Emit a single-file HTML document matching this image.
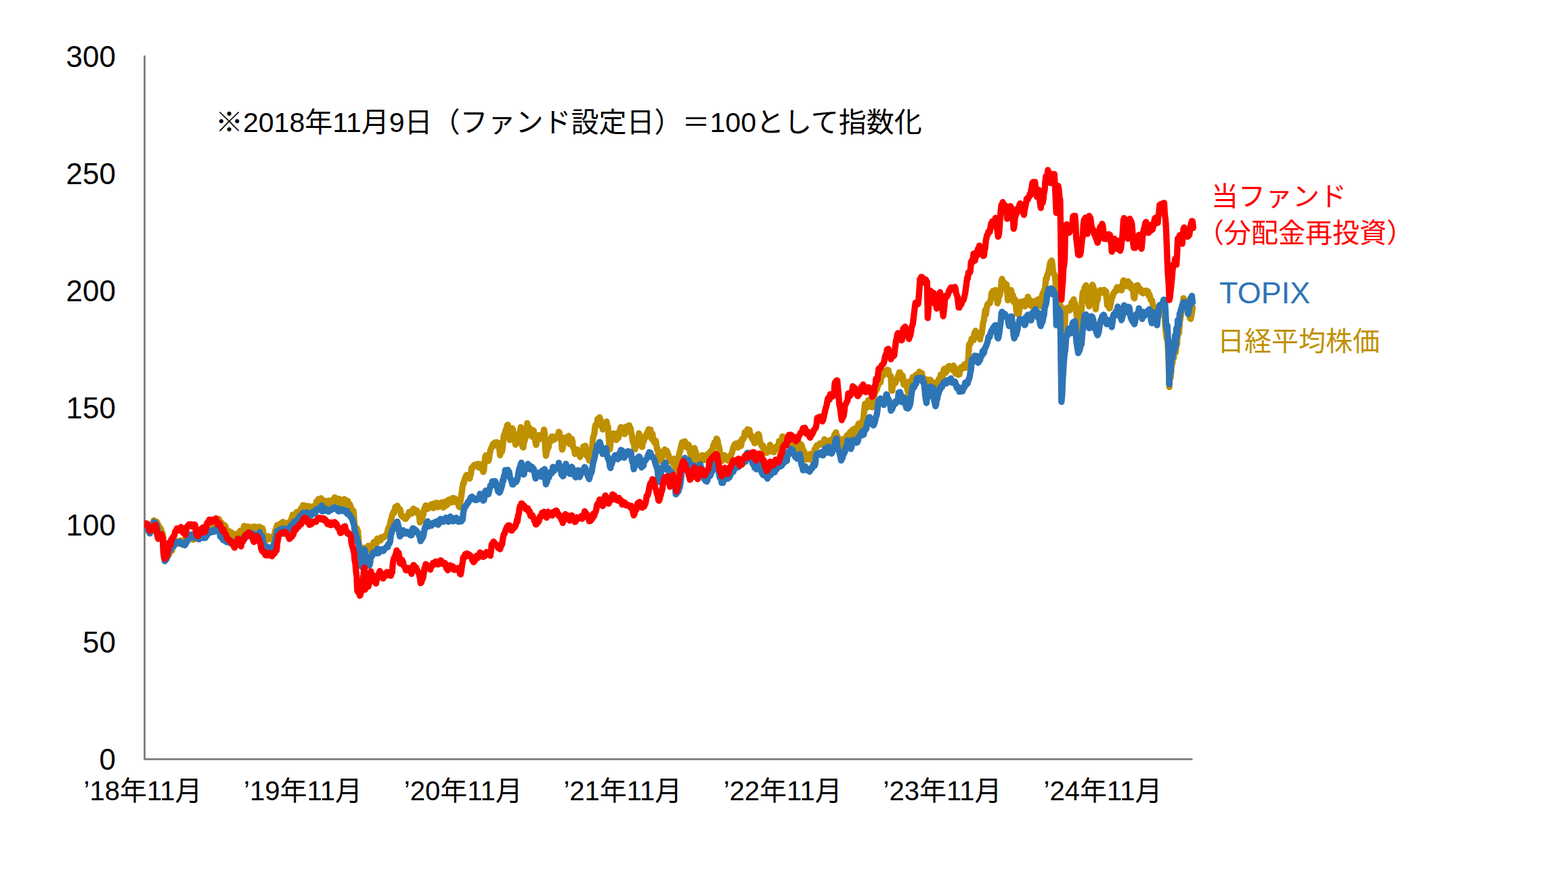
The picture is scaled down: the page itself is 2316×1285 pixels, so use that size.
<!DOCTYPE html>
<html lang="ja"><head><meta charset="utf-8"><title>chart</title>
<style>
html,body{margin:0;padding:0;background:#fff;}
body{width:2316px;height:1285px;overflow:hidden;font-family:"Liberation Sans","Noto Sans CJK JP",sans-serif;}
svg{display:block}
.ln{fill:none;stroke-width:9.3;stroke-linejoin:round;stroke-linecap:round}
text{font-family:"Liberation Sans","Noto Sans CJK JP",sans-serif;}
</style></head><body>
<svg width="2316" height="1285" viewBox="0 0 2316 1285" role="img" aria-label="基準価額の推移（当ファンド・TOPIX・日経平均株価）">
<rect width="2316" height="1285" fill="#fff"/>
<path d="M213.55,82.1 V1121.45 H1761.4" fill="none" stroke="#7b7b7b" stroke-width="2.8" stroke-linejoin="bevel"/>
<clipPath id="cp"><rect x="213.4" y="0" width="2000" height="1285"/></clipPath>
<g clip-path="url(#cp)">
<path class="ln" stroke="#bf9000" d="M213.8,775.8 L214.8,777.5 L215.7,781.7 L216.7,781.1 L217.6,781.2 L218.6,781.5 L219.5,784.7 L220.5,786.5 L221.4,787.9 L222.4,781.9 L223.3,781.8 L224.3,777.7 L225.3,774.9 L226.2,771.5 L227.2,768.7 L228.1,769.7 L229.1,771.6 L230.0,770.5 L231.0,770.4 L231.9,771.5 L232.9,775.6 L233.8,775.1 L234.8,780.1 L235.7,783.1 L236.7,779.6 L237.7,781.8 L238.6,785.0 L239.6,786.6 L240.5,789.6 L241.5,799.6 L242.4,815.9 L243.4,824.1 L244.3,821.5 L245.3,822.1 L246.2,822.4 L247.2,819.6 L248.2,818.4 L249.1,820.1 L250.1,817.4 L251.0,813.8 L252.0,813.8 L252.9,811.8 L253.9,813.3 L254.8,809.0 L255.8,807.4 L256.7,805.7 L257.7,801.6 L258.6,801.7 L259.6,801.9 L260.6,799.4 L261.5,801.1 L262.5,801.9 L263.4,801.1 L264.4,801.3 L265.3,803.4 L266.3,798.4 L267.2,800.5 L268.2,801.5 L269.1,800.0 L270.1,798.9 L271.1,798.0 L272.0,799.0 L273.0,797.0 L273.9,796.3 L274.9,797.1 L275.8,793.4 L276.8,794.5 L277.7,793.7 L278.7,793.5 L279.6,791.1 L280.6,791.9 L281.5,791.3 L282.5,790.8 L283.5,790.1 L284.4,792.7 L285.4,797.1 L286.3,789.9 L287.3,792.1 L288.2,794.3 L289.2,793.3 L290.1,793.1 L291.1,793.8 L292.0,789.8 L293.0,790.7 L294.0,795.6 L294.9,790.5 L295.9,790.1 L296.8,789.6 L297.8,786.8 L298.7,788.1 L299.7,792.3 L300.6,785.0 L301.6,780.5 L302.5,781.8 L303.5,785.4 L304.4,784.0 L305.4,780.1 L306.4,780.0 L307.3,779.2 L308.3,778.6 L309.2,775.9 L310.2,776.6 L311.1,777.2 L312.1,776.6 L313.0,775.8 L314.0,774.1 L314.9,771.6 L315.9,775.2 L316.9,774.0 L317.8,767.1 L318.8,769.9 L319.7,769.7 L320.7,769.7 L321.6,771.5 L322.6,771.1 L323.5,766.7 L324.5,770.0 L325.4,778.8 L326.4,774.5 L327.3,772.1 L328.3,776.2 L329.3,775.0 L330.2,775.3 L331.2,775.3 L332.1,776.4 L333.1,777.5 L334.0,782.5 L335.0,786.1 L335.9,787.5 L336.9,790.5 L337.8,787.0 L338.8,784.5 L339.8,787.8 L340.7,786.0 L341.7,786.4 L342.6,787.0 L343.6,787.9 L344.5,789.4 L345.5,791.9 L346.4,790.5 L347.4,790.5 L348.3,789.9 L349.3,790.4 L350.2,788.3 L351.2,788.0 L352.2,788.7 L353.1,789.5 L354.1,789.8 L355.0,783.8 L356.0,784.3 L356.9,785.3 L357.9,785.2 L358.8,785.9 L359.8,780.7 L360.7,776.8 L361.7,779.2 L362.7,777.7 L363.6,779.5 L364.6,782.8 L365.5,778.4 L366.5,777.8 L367.4,778.4 L368.4,779.0 L369.3,779.7 L370.3,780.1 L371.2,779.2 L372.2,778.4 L373.2,779.5 L374.1,780.1 L375.1,779.8 L376.0,777.7 L377.0,778.4 L377.9,779.8 L378.9,778.9 L379.8,778.4 L380.8,779.4 L381.7,778.7 L382.7,778.8 L383.6,778.1 L384.6,779.2 L385.6,780.3 L386.5,783.1 L387.5,780.1 L388.4,782.7 L389.4,791.2 L390.3,794.8 L391.3,795.2 L392.2,795.1 L393.2,796.5 L394.1,797.2 L395.1,794.3 L396.1,791.8 L397.0,796.5 L398.0,794.8 L398.9,794.8 L399.9,795.7 L400.8,793.2 L401.8,796.5 L402.7,793.7 L403.7,793.2 L404.6,793.7 L405.6,789.6 L406.5,783.7 L407.5,782.5 L408.5,778.1 L409.4,775.8 L410.4,776.1 L411.3,775.5 L412.3,775.0 L413.2,774.2 L414.2,774.1 L415.1,772.7 L416.1,775.7 L417.0,774.7 L418.0,770.8 L419.0,773.2 L419.9,774.4 L420.9,776.1 L421.8,772.9 L422.8,775.0 L423.7,773.9 L424.7,774.1 L425.6,777.1 L426.6,771.5 L427.5,774.1 L428.5,773.2 L429.4,771.1 L430.4,766.3 L431.4,764.0 L432.3,760.3 L433.3,762.8 L434.2,765.7 L435.2,763.7 L436.1,764.7 L437.1,764.3 L438.0,756.4 L439.0,757.8 L439.9,757.7 L440.9,755.9 L441.9,755.5 L442.8,758.1 L443.8,754.8 L444.7,750.7 L445.7,751.6 L446.6,750.0 L447.6,746.1 L448.5,747.8 L449.5,750.6 L450.4,747.3 L451.4,747.0 L452.3,748.5 L453.3,749.5 L454.3,751.1 L455.2,749.9 L456.2,747.6 L457.1,753.2 L458.1,750.7 L459.0,748.8 L460.0,748.3 L460.9,751.9 L461.9,750.1 L462.8,749.0 L463.8,751.6 L464.8,746.5 L465.7,747.3 L466.7,745.9 L467.6,740.4 L468.6,741.0 L469.5,742.5 L470.5,737.1 L471.4,740.5 L472.4,738.7 L473.3,737.2 L474.3,736.0 L475.2,738.9 L476.2,740.4 L477.2,740.8 L478.1,740.4 L479.1,741.1 L480.0,739.7 L481.0,741.2 L481.9,742.2 L482.9,743.2 L483.8,745.8 L484.8,743.8 L485.7,739.4 L486.7,743.7 L487.7,742.7 L488.6,740.4 L489.6,740.3 L490.5,738.8 L491.5,739.5 L492.4,738.1 L493.4,737.4 L494.3,734.7 L495.3,740.6 L496.2,740.8 L497.2,736.4 L498.1,738.1 L499.1,739.1 L500.1,741.6 L501.0,736.8 L502.0,742.1 L502.9,747.5 L503.9,742.3 L504.8,741.5 L505.8,742.0 L506.7,741.2 L507.7,740.2 L508.6,737.2 L509.6,740.1 L510.6,741.2 L511.5,744.5 L512.5,740.0 L513.4,739.7 L514.4,743.8 L515.3,747.0 L516.3,744.2 L517.2,746.2 L518.2,749.0 L519.1,751.7 L520.1,754.1 L521.0,755.1 L522.0,754.4 L523.0,765.4 L523.9,781.9 L524.9,781.0 L525.8,780.3 L526.8,780.1 L527.7,782.7 L528.7,784.4 L529.6,798.2 L530.6,807.4 L531.5,817.2 L532.5,815.2 L533.5,812.1 L534.4,810.0 L535.4,812.4 L536.3,810.3 L537.3,809.1 L538.2,811.8 L539.2,812.5 L540.1,812.0 L541.1,811.2 L542.0,812.3 L543.0,813.3 L544.0,806.2 L544.9,811.2 L545.9,812.1 L546.8,809.1 L547.8,809.3 L548.7,810.0 L549.7,809.3 L550.6,805.1 L551.6,801.2 L552.5,800.3 L553.5,801.5 L554.4,801.7 L555.4,805.6 L556.4,801.9 L557.3,795.5 L558.3,798.2 L559.2,797.4 L560.2,798.3 L561.1,797.9 L562.1,798.2 L563.0,793.5 L564.0,795.1 L564.9,794.0 L565.9,794.0 L566.9,793.9 L567.8,792.3 L568.8,791.7 L569.7,790.2 L570.7,790.5 L571.6,789.4 L572.6,784.4 L573.5,780.0 L574.5,780.2 L575.4,776.0 L576.4,773.3 L577.3,768.1 L578.3,765.6 L579.3,760.6 L580.2,758.9 L581.2,756.0 L582.1,757.5 L583.1,752.8 L584.0,748.7 L585.0,749.0 L585.9,748.2 L586.9,747.1 L587.8,749.5 L588.8,750.5 L589.8,752.5 L590.7,752.2 L591.7,755.1 L592.6,761.2 L593.6,762.2 L594.5,763.0 L595.5,763.8 L596.4,762.9 L597.4,765.1 L598.3,766.2 L599.3,766.4 L600.2,764.6 L601.2,761.9 L602.2,762.6 L603.1,759.4 L604.1,756.2 L605.0,758.3 L606.0,758.9 L606.9,758.6 L607.9,758.6 L608.8,755.8 L609.8,752.5 L610.7,751.2 L611.7,755.4 L612.7,756.7 L613.6,753.2 L614.6,754.3 L615.5,753.9 L616.5,757.9 L617.4,756.8 L618.4,757.7 L619.3,763.2 L620.3,771.5 L621.2,765.4 L622.2,764.9 L623.1,768.5 L624.1,762.9 L625.1,760.4 L626.0,754.2 L627.0,750.8 L627.9,749.0 L628.9,746.5 L629.8,748.0 L630.8,751.8 L631.7,750.5 L632.7,750.8 L633.6,747.2 L634.6,747.1 L635.6,747.4 L636.5,746.4 L637.5,744.6 L638.4,745.7 L639.4,748.2 L640.3,750.5 L641.3,747.1 L642.2,743.2 L643.2,743.9 L644.1,744.6 L645.1,742.6 L646.0,747.4 L647.0,749.1 L648.0,747.0 L648.9,744.6 L649.9,743.0 L650.8,742.9 L651.8,743.6 L652.7,741.8 L653.7,748.2 L654.6,749.7 L655.6,748.8 L656.5,746.6 L657.5,742.2 L658.5,740.5 L659.4,746.6 L660.4,741.8 L661.3,744.1 L662.3,743.9 L663.2,737.8 L664.2,738.6 L665.1,738.7 L666.1,739.2 L667.0,738.5 L668.0,741.9 L668.9,735.5 L669.9,736.8 L670.9,737.9 L671.8,736.2 L672.8,741.3 L673.7,741.3 L674.7,738.7 L675.6,740.6 L676.6,742.7 L677.5,747.4 L678.5,749.1 L679.4,744.9 L680.4,738.2 L681.4,732.7 L682.3,726.4 L683.3,717.5 L684.2,713.7 L685.2,713.6 L686.1,708.5 L687.1,705.9 L688.0,703.8 L689.0,701.6 L689.9,702.7 L690.9,706.2 L691.9,705.5 L692.8,704.7 L693.8,706.8 L694.7,702.2 L695.7,699.4 L696.6,691.1 L697.6,691.3 L698.5,690.3 L699.5,687.8 L700.4,686.9 L701.4,687.2 L702.3,686.0 L703.3,687.6 L704.3,687.7 L705.2,687.8 L706.2,685.2 L707.1,690.4 L708.1,688.7 L709.0,687.8 L710.0,686.9 L710.9,685.9 L711.9,690.0 L712.8,694.3 L713.8,697.1 L714.8,693.9 L715.7,683.2 L716.7,674.9 L717.6,672.6 L718.6,677.9 L719.5,679.4 L720.5,679.8 L721.4,680.9 L722.4,677.2 L723.3,670.5 L724.3,665.4 L725.2,663.2 L726.2,660.4 L727.2,659.3 L728.1,655.9 L729.1,655.2 L730.0,654.1 L731.0,658.1 L731.9,653.4 L732.9,655.0 L733.8,653.1 L734.8,655.3 L735.7,654.1 L736.7,659.5 L737.7,663.9 L738.6,672.3 L739.6,668.1 L740.5,664.5 L741.5,666.9 L742.4,661.9 L743.4,649.9 L744.3,642.9 L745.3,640.8 L746.2,638.2 L747.2,634.3 L748.1,636.6 L749.1,628.3 L750.1,627.4 L751.0,637.6 L752.0,643.3 L752.9,649.8 L753.9,645.4 L754.8,640.3 L755.8,637.6 L756.7,632.5 L757.7,634.9 L758.6,645.8 L759.6,647.3 L760.6,651.5 L761.5,656.8 L762.5,653.4 L763.4,655.0 L764.4,648.7 L765.3,647.3 L766.3,641.2 L767.2,639.3 L768.2,638.5 L769.1,630.8 L770.1,639.2 L771.0,653.9 L772.0,660.2 L773.0,660.9 L773.9,652.1 L774.9,651.0 L775.8,646.4 L776.8,645.9 L777.7,639.1 L778.7,625.1 L779.6,630.8 L780.6,636.3 L781.5,631.4 L782.5,632.5 L783.5,636.8 L784.4,636.6 L785.4,642.9 L786.3,645.2 L787.3,635.3 L788.2,636.0 L789.2,645.8 L790.1,641.9 L791.1,655.0 L792.0,657.1 L793.0,646.3 L793.9,648.9 L794.9,644.6 L795.9,642.6 L796.8,648.6 L797.8,648.1 L798.7,644.3 L799.7,645.0 L800.6,646.1 L801.6,641.2 L802.5,640.7 L803.5,634.6 L804.4,639.4 L805.4,662.6 L806.4,673.1 L807.3,667.7 L808.3,664.0 L809.2,660.2 L810.2,660.7 L811.1,654.1 L812.1,649.1 L813.0,648.1 L814.0,651.6 L814.9,644.8 L815.9,645.5 L816.8,644.8 L817.8,647.3 L818.8,649.2 L819.7,648.1 L820.7,647.4 L821.6,644.9 L822.6,646.4 L823.5,644.6 L824.5,641.2 L825.4,637.9 L826.4,639.4 L827.3,646.8 L828.3,647.2 L829.3,652.2 L830.2,664.0 L831.2,661.9 L832.1,654.1 L833.1,646.8 L834.0,646.4 L835.0,649.1 L835.9,648.9 L836.9,653.3 L837.8,649.8 L838.8,650.2 L839.8,643.8 L840.7,655.2 L841.7,655.9 L842.6,652.2 L843.6,656.5 L844.5,648.2 L845.5,651.5 L846.4,660.9 L847.4,662.3 L848.3,663.5 L849.3,670.5 L850.2,667.5 L851.2,669.8 L852.2,663.8 L853.1,664.5 L854.1,668.5 L855.0,670.0 L856.0,671.5 L856.9,674.9 L857.9,670.2 L858.8,667.3 L859.8,666.0 L860.7,665.4 L861.7,659.6 L862.7,666.5 L863.6,661.9 L864.6,658.5 L865.5,664.7 L866.5,673.1 L867.4,670.5 L868.4,672.5 L869.3,676.9 L870.3,680.0 L871.2,673.9 L872.2,674.8 L873.1,669.7 L874.1,663.6 L875.1,656.6 L876.0,646.7 L877.0,642.9 L877.9,640.6 L878.9,631.1 L879.8,627.4 L880.8,629.3 L881.7,626.1 L882.7,619.0 L883.6,624.6 L884.6,619.6 L885.6,616.4 L886.5,618.7 L887.5,622.7 L888.4,624.1 L889.4,630.9 L890.3,634.3 L891.3,632.7 L892.2,628.7 L893.2,625.8 L894.1,626.5 L895.1,626.0 L896.0,622.6 L897.0,628.2 L898.0,630.5 L898.9,642.8 L899.9,657.2 L900.8,663.6 L901.8,653.9 L902.7,649.1 L903.7,646.4 L904.6,645.5 L905.6,640.3 L906.5,640.3 L907.5,645.4 L908.5,640.6 L909.4,648.6 L910.4,649.8 L911.3,646.3 L912.3,640.2 L913.2,646.8 L914.2,642.9 L915.1,636.2 L916.1,634.1 L917.0,630.8 L918.0,633.3 L918.9,634.8 L919.9,631.7 L920.9,640.1 L921.8,640.0 L922.8,641.2 L923.7,636.5 L924.7,630.6 L925.6,629.9 L926.6,632.6 L927.5,632.0 L928.5,628.6 L929.4,628.1 L930.4,632.8 L931.4,632.5 L932.3,639.6 L933.3,642.9 L934.2,649.8 L935.2,653.8 L936.1,650.0 L937.1,662.4 L938.0,663.6 L939.0,655.8 L939.9,656.8 L940.9,652.7 L941.8,648.1 L942.8,647.8 L943.8,640.0 L944.7,642.9 L945.7,648.7 L946.6,648.9 L947.6,659.6 L948.5,660.2 L949.5,653.6 L950.4,652.5 L951.4,649.4 L952.3,644.6 L953.3,646.3 L954.3,644.5 L955.2,639.9 L956.2,639.4 L957.1,637.8 L958.1,634.1 L959.0,636.9 L960.0,640.6 L960.9,634.8 L961.9,646.4 L962.8,648.6 L963.8,640.9 L964.7,648.9 L965.7,649.8 L966.7,653.9 L967.6,650.4 L968.6,651.3 L969.5,656.7 L970.5,663.9 L971.4,663.1 L972.4,670.5 L973.3,676.9 L974.3,676.1 L975.2,677.3 L976.2,680.9 L977.2,675.1 L978.1,676.2 L979.1,667.1 L980.0,667.9 L981.0,671.3 L981.9,663.8 L982.9,665.4 L983.8,667.4 L984.8,665.9 L985.7,667.5 L986.7,670.5 L987.7,673.5 L988.6,679.1 L989.6,680.9 L990.5,678.8 L991.5,679.8 L992.4,679.0 L993.4,683.9 L994.3,679.2 L995.3,677.5 L996.2,678.7 L997.2,692.2 L998.1,694.7 L999.1,690.3 L1000.1,686.8 L1001.0,683.1 L1002.0,678.3 L1002.9,672.3 L1003.9,667.5 L1004.8,666.1 L1005.8,659.8 L1006.7,656.7 L1007.7,653.2 L1008.6,655.6 L1009.6,655.3 L1010.6,654.1 L1011.5,651.8 L1012.5,659.6 L1013.4,655.5 L1014.4,656.7 L1015.3,661.3 L1016.3,659.0 L1017.2,656.8 L1018.2,660.2 L1019.1,667.4 L1020.1,671.9 L1021.0,677.7 L1022.0,680.9 L1023.0,672.7 L1023.9,674.9 L1024.9,670.8 L1025.8,661.9 L1026.8,666.5 L1027.7,667.4 L1028.7,671.1 L1029.6,677.4 L1030.6,676.6 L1031.5,683.0 L1032.5,678.2 L1033.5,680.9 L1034.4,676.4 L1035.4,677.6 L1036.3,676.4 L1037.3,672.3 L1038.2,673.4 L1039.2,674.0 L1040.1,679.5 L1041.1,678.4 L1042.0,677.1 L1043.0,675.9 L1043.9,673.5 L1044.9,671.0 L1045.9,672.3 L1046.8,671.2 L1047.8,668.7 L1048.7,667.8 L1049.7,667.4 L1050.6,665.4 L1051.6,664.6 L1052.5,666.5 L1053.5,658.0 L1054.4,656.6 L1055.4,653.4 L1056.4,654.7 L1057.3,652.4 L1058.3,648.0 L1059.2,648.8 L1060.2,651.6 L1061.1,657.8 L1062.1,660.4 L1063.0,665.4 L1064.0,673.8 L1064.9,672.6 L1065.9,681.0 L1066.8,674.7 L1067.8,676.2 L1068.8,679.2 L1069.7,672.3 L1070.7,673.1 L1071.6,678.1 L1072.6,676.4 L1073.5,675.7 L1074.5,679.3 L1075.4,680.4 L1076.4,677.5 L1077.3,678.2 L1078.3,673.1 L1079.3,674.1 L1080.2,671.0 L1081.2,668.6 L1082.1,665.4 L1083.1,660.3 L1084.0,660.9 L1085.0,656.5 L1085.9,658.7 L1086.9,655.1 L1087.8,657.3 L1088.8,657.1 L1089.7,661.1 L1090.7,660.3 L1091.7,657.0 L1092.6,652.5 L1093.6,655.1 L1094.5,658.7 L1095.5,653.4 L1096.4,648.0 L1097.4,647.4 L1098.3,648.2 L1099.3,645.5 L1100.2,638.3 L1101.2,638.9 L1102.2,637.8 L1103.1,640.2 L1104.1,634.1 L1105.0,634.4 L1106.0,638.9 L1106.9,635.0 L1107.9,642.7 L1108.8,644.7 L1109.8,643.0 L1110.7,647.6 L1111.7,649.1 L1112.6,650.2 L1113.6,651.6 L1114.6,654.7 L1115.5,646.4 L1116.5,646.4 L1117.4,648.0 L1118.4,644.1 L1119.3,641.5 L1120.3,641.3 L1121.2,643.0 L1122.2,649.8 L1123.1,653.7 L1124.1,656.8 L1125.1,658.2 L1126.0,660.1 L1127.0,657.9 L1127.9,663.8 L1128.9,663.7 L1129.8,662.7 L1130.8,668.3 L1131.7,668.9 L1132.7,668.9 L1133.6,665.6 L1134.6,666.4 L1135.5,665.1 L1136.5,662.0 L1137.5,657.0 L1138.4,666.5 L1139.4,665.6 L1140.3,665.3 L1141.3,667.2 L1142.2,666.5 L1143.2,667.8 L1144.1,661.6 L1145.1,662.0 L1146.0,659.8 L1147.0,661.4 L1148.0,663.9 L1148.9,659.0 L1149.9,656.8 L1150.8,651.3 L1151.8,654.2 L1152.7,656.4 L1153.7,653.4 L1154.6,653.6 L1155.6,644.6 L1156.5,645.9 L1157.5,646.5 L1158.5,645.6 L1159.4,648.0 L1160.4,650.2 L1161.3,648.2 L1162.3,647.3 L1163.2,649.1 L1164.2,648.8 L1165.1,647.0 L1166.1,656.7 L1167.0,655.2 L1168.0,655.6 L1168.9,652.9 L1169.9,652.9 L1170.9,655.7 L1171.8,656.8 L1172.8,656.9 L1173.7,659.7 L1174.7,665.4 L1175.6,659.1 L1176.6,647.6 L1177.5,659.4 L1178.5,660.3 L1179.4,663.4 L1180.4,657.7 L1181.4,655.3 L1182.3,665.6 L1183.3,656.1 L1184.2,658.5 L1185.2,662.1 L1186.1,664.5 L1187.1,668.9 L1188.0,667.2 L1189.0,678.8 L1189.9,674.6 L1190.9,674.1 L1191.8,672.5 L1192.8,678.4 L1193.8,677.4 L1194.7,678.4 L1195.7,678.3 L1196.6,670.5 L1197.6,675.8 L1198.5,676.0 L1199.5,679.4 L1200.4,675.6 L1201.4,670.1 L1202.3,668.9 L1203.3,663.3 L1204.3,665.0 L1205.2,660.3 L1206.2,658.0 L1207.1,658.0 L1208.1,658.4 L1209.0,657.9 L1210.0,656.8 L1210.9,655.0 L1211.9,656.1 L1212.8,656.1 L1213.8,655.6 L1214.7,654.2 L1215.7,655.7 L1216.7,657.6 L1217.6,648.8 L1218.6,652.4 L1219.5,653.4 L1220.5,655.1 L1221.4,654.6 L1222.4,653.6 L1223.3,655.2 L1224.3,655.1 L1225.2,655.9 L1226.2,649.8 L1227.2,661.2 L1228.1,655.6 L1229.1,656.8 L1230.0,651.7 L1231.0,647.1 L1231.9,644.7 L1232.9,641.8 L1233.8,640.6 L1234.8,638.7 L1235.7,646.8 L1236.7,644.0 L1237.6,646.4 L1238.6,648.2 L1239.6,648.5 L1240.5,651.7 L1241.5,660.7 L1242.4,660.3 L1243.4,657.5 L1244.3,664.0 L1245.3,654.0 L1246.2,648.2 L1247.2,655.4 L1248.1,656.0 L1249.1,651.3 L1250.1,647.9 L1251.0,643.0 L1252.0,645.2 L1252.9,651.0 L1253.9,645.7 L1254.8,639.5 L1255.8,637.9 L1256.7,648.0 L1257.7,645.4 L1258.6,642.2 L1259.6,634.4 L1260.5,637.6 L1261.5,643.0 L1262.5,638.6 L1263.4,632.6 L1264.4,632.7 L1265.3,640.0 L1266.3,639.2 L1267.2,629.3 L1268.2,625.7 L1269.1,629.8 L1270.1,634.0 L1271.0,626.8 L1272.0,624.0 L1273.0,628.6 L1273.9,630.0 L1274.9,620.5 L1275.8,613.6 L1276.8,603.7 L1277.7,596.4 L1278.7,601.1 L1279.6,601.8 L1280.6,602.0 L1281.5,596.4 L1282.5,591.2 L1283.4,596.7 L1284.4,600.0 L1285.4,596.3 L1286.3,591.6 L1287.3,592.9 L1288.2,601.5 L1289.2,598.0 L1290.1,585.8 L1291.1,586.0 L1292.0,581.2 L1293.0,579.5 L1293.9,574.7 L1294.9,575.6 L1295.9,572.2 L1296.8,570.2 L1297.8,561.8 L1298.7,558.9 L1299.7,563.5 L1300.6,564.7 L1301.6,556.7 L1302.5,554.9 L1303.5,555.7 L1304.4,552.7 L1305.4,551.4 L1306.4,551.2 L1307.3,548.0 L1308.3,547.9 L1309.2,552.1 L1310.2,546.2 L1311.1,547.8 L1312.1,546.7 L1313.0,552.0 L1314.0,553.5 L1314.9,555.5 L1315.9,556.0 L1316.8,575.9 L1317.8,577.1 L1318.8,566.0 L1319.7,567.9 L1320.7,561.3 L1321.6,561.5 L1322.6,566.0 L1323.5,562.1 L1324.5,561.1 L1325.4,560.2 L1326.4,555.1 L1327.3,554.5 L1328.3,550.1 L1329.3,550.2 L1330.2,558.0 L1331.2,553.8 L1332.1,557.5 L1333.1,554.6 L1334.0,563.1 L1335.0,568.1 L1335.9,568.0 L1336.9,563.0 L1337.8,564.3 L1338.8,568.2 L1339.7,572.6 L1340.7,576.9 L1341.7,580.4 L1342.6,583.9 L1343.6,577.9 L1344.5,573.7 L1345.5,561.7 L1346.4,563.0 L1347.4,561.7 L1348.3,556.8 L1349.3,558.6 L1350.2,557.7 L1351.2,560.0 L1352.2,559.7 L1353.1,553.5 L1354.1,557.4 L1355.0,556.0 L1356.0,553.8 L1356.9,551.4 L1357.9,549.0 L1358.8,552.2 L1359.8,555.0 L1360.7,551.8 L1361.7,551.2 L1362.6,558.2 L1363.6,560.4 L1364.6,560.0 L1365.5,564.2 L1366.5,562.5 L1367.4,559.9 L1368.4,571.0 L1369.3,573.4 L1370.3,567.7 L1371.2,568.1 L1372.2,561.6 L1373.1,561.0 L1374.1,560.9 L1375.1,562.5 L1376.0,566.6 L1377.0,570.0 L1377.9,569.4 L1378.9,564.7 L1379.8,566.6 L1380.8,571.0 L1381.7,574.7 L1382.7,572.5 L1383.6,577.0 L1384.6,572.3 L1385.5,566.0 L1386.5,560.0 L1387.5,562.5 L1388.4,565.8 L1389.4,553.3 L1390.3,560.0 L1391.3,560.1 L1392.2,556.8 L1393.2,552.8 L1394.1,545.8 L1395.1,544.5 L1396.0,549.6 L1397.0,550.3 L1398.0,549.0 L1398.9,546.0 L1399.9,542.8 L1400.8,541.5 L1401.8,540.7 L1402.7,543.2 L1403.7,542.2 L1404.6,542.8 L1405.6,545.2 L1406.5,544.6 L1407.5,546.9 L1408.4,540.0 L1409.4,542.0 L1410.4,546.1 L1411.3,551.8 L1412.3,547.9 L1413.2,548.2 L1414.2,549.0 L1415.1,553.6 L1416.1,553.1 L1417.0,553.0 L1418.0,546.2 L1418.9,543.2 L1419.9,542.4 L1420.9,542.2 L1421.8,544.3 L1422.8,541.8 L1423.7,539.6 L1424.7,538.2 L1425.6,543.1 L1426.6,543.2 L1427.5,540.0 L1428.5,539.2 L1429.4,539.0 L1430.4,527.1 L1431.3,509.6 L1432.3,507.8 L1433.3,507.6 L1434.2,504.0 L1435.2,500.4 L1436.1,500.3 L1437.1,501.2 L1438.0,502.3 L1439.0,492.8 L1439.9,491.1 L1440.9,488.6 L1441.8,491.4 L1442.8,493.4 L1443.8,494.9 L1444.7,495.3 L1445.7,498.4 L1446.6,496.6 L1447.6,501.3 L1448.5,492.5 L1449.5,494.2 L1450.4,490.5 L1451.4,482.0 L1452.3,476.0 L1453.3,472.7 L1454.3,464.8 L1455.2,457.9 L1456.2,464.3 L1457.1,457.8 L1458.1,450.4 L1459.0,449.8 L1460.0,448.0 L1460.9,447.5 L1461.9,448.1 L1462.8,444.3 L1463.8,441.0 L1464.7,432.7 L1465.7,433.1 L1466.7,429.8 L1467.6,429.9 L1468.6,433.0 L1469.5,430.0 L1470.5,428.4 L1471.4,438.8 L1472.4,438.9 L1473.3,448.0 L1474.3,445.2 L1475.2,437.2 L1476.2,437.3 L1477.2,434.0 L1478.1,429.9 L1479.1,417.1 L1480.0,412.0 L1481.0,415.7 L1481.9,419.1 L1482.9,417.1 L1483.8,417.8 L1484.8,418.6 L1485.7,421.5 L1486.7,420.0 L1487.6,429.5 L1488.6,443.5 L1489.6,439.3 L1490.5,435.4 L1491.5,434.3 L1492.4,431.8 L1493.4,428.4 L1494.3,433.0 L1495.3,435.2 L1496.2,436.2 L1497.2,446.1 L1498.1,445.8 L1499.1,442.1 L1500.1,444.0 L1501.0,456.8 L1502.0,463.4 L1502.9,461.5 L1503.9,464.1 L1504.8,464.2 L1505.8,453.9 L1506.7,449.4 L1507.7,445.6 L1508.6,451.0 L1509.6,446.1 L1510.5,447.9 L1511.5,451.8 L1512.5,444.6 L1513.4,452.4 L1514.4,448.3 L1515.3,445.4 L1516.3,450.7 L1517.2,443.5 L1518.2,438.4 L1519.1,444.3 L1520.1,442.1 L1521.0,444.7 L1522.0,443.7 L1523.0,447.2 L1523.9,452.4 L1524.9,448.0 L1525.8,445.2 L1526.8,446.5 L1527.7,447.5 L1528.7,451.4 L1529.6,449.4 L1530.6,443.9 L1531.5,446.0 L1532.5,446.4 L1533.4,442.1 L1534.4,446.5 L1535.4,445.6 L1536.3,448.2 L1537.3,452.4 L1538.2,444.7 L1539.2,436.6 L1540.1,433.2 L1541.1,432.9 L1542.0,429.3 L1543.0,428.8 L1543.9,423.3 L1544.9,411.2 L1545.9,412.2 L1546.8,405.8 L1547.8,405.3 L1548.7,401.7 L1549.7,397.0 L1550.6,390.6 L1551.6,387.4 L1552.5,387.6 L1553.5,384.8 L1554.4,390.6 L1555.4,401.4 L1556.3,403.8 L1557.3,405.9 L1558.3,406.8 L1559.2,417.9 L1560.2,428.8 L1561.1,427.7 L1562.1,441.5 L1563.0,446.5 L1564.0,450.2 L1564.9,447.1 L1565.9,451.2 L1566.8,452.4 L1567.8,574.4 L1568.8,561.2 L1569.7,531.8 L1570.7,518.6 L1571.6,502.8 L1572.6,487.6 L1573.5,461.2 L1574.5,455.6 L1575.4,455.7 L1576.4,454.9 L1577.3,456.8 L1578.3,457.3 L1579.2,455.3 L1580.2,458.3 L1581.2,452.4 L1582.1,450.1 L1583.1,446.4 L1584.0,454.1 L1585.0,449.4 L1585.9,442.2 L1586.9,449.0 L1587.8,447.9 L1588.8,455.3 L1589.7,461.2 L1590.7,468.3 L1591.7,482.9 L1592.6,487.6 L1593.6,484.5 L1594.5,490.6 L1595.5,480.3 L1596.4,468.0 L1597.4,458.2 L1598.3,442.1 L1599.3,431.8 L1600.2,431.2 L1601.2,428.7 L1602.1,424.4 L1603.1,425.3 L1604.1,421.5 L1605.0,425.9 L1606.0,428.9 L1606.9,442.4 L1607.9,450.8 L1608.8,452.4 L1609.8,432.8 L1610.7,425.9 L1611.7,427.7 L1612.6,427.2 L1613.6,420.6 L1614.6,422.9 L1615.5,426.4 L1616.5,428.8 L1617.4,437.5 L1618.4,456.8 L1619.3,448.9 L1620.3,443.2 L1621.2,443.1 L1622.2,433.2 L1623.1,434.2 L1624.1,430.6 L1625.1,428.7 L1626.0,431.8 L1627.0,431.6 L1627.9,429.7 L1628.9,428.7 L1629.8,428.8 L1630.8,428.1 L1631.7,433.6 L1632.7,432.4 L1633.6,430.3 L1634.6,441.4 L1635.5,450.9 L1636.5,451.7 L1637.5,449.6 L1638.4,455.3 L1639.4,454.8 L1640.3,449.8 L1641.3,443.9 L1642.2,440.6 L1643.2,438.5 L1644.1,433.9 L1645.1,433.2 L1646.0,431.5 L1647.0,429.7 L1648.0,430.1 L1648.9,427.4 L1649.9,424.1 L1650.8,428.7 L1651.8,425.0 L1652.7,424.4 L1653.7,427.6 L1654.6,427.8 L1655.6,428.3 L1656.5,428.8 L1657.5,423.5 L1658.4,418.5 L1659.4,414.1 L1660.4,417.6 L1661.3,415.6 L1662.3,417.7 L1663.2,419.2 L1664.2,422.6 L1665.1,421.5 L1666.1,415.6 L1667.0,422.6 L1668.0,420.7 L1668.9,418.5 L1669.9,420.7 L1670.9,426.3 L1671.8,422.1 L1672.8,422.9 L1673.7,430.0 L1674.7,439.6 L1675.6,440.6 L1676.6,434.0 L1677.5,429.6 L1678.5,426.4 L1679.4,421.5 L1680.4,421.2 L1681.3,426.9 L1682.3,425.9 L1683.3,425.8 L1684.2,428.0 L1685.2,427.7 L1686.1,431.8 L1687.1,431.9 L1688.0,433.2 L1689.0,429.8 L1689.9,430.3 L1690.9,430.3 L1691.8,432.1 L1692.8,429.1 L1693.8,430.3 L1694.7,430.6 L1695.7,430.4 L1696.6,436.8 L1697.6,434.7 L1698.5,437.4 L1699.5,442.7 L1700.4,443.3 L1701.4,443.5 L1702.3,447.8 L1703.3,452.4 L1704.2,453.8 L1705.2,458.9 L1706.2,461.2 L1707.1,460.2 L1708.1,463.1 L1709.0,457.6 L1710.0,459.7 L1710.9,458.2 L1711.9,458.0 L1712.8,458.2 L1713.8,455.0 L1714.7,452.0 L1715.7,452.5 L1716.7,451.1 L1717.6,449.0 L1718.6,450.0 L1719.5,456.0 L1720.5,470.0 L1721.4,484.0 L1722.4,494.0 L1723.3,500.0 L1724.3,498.0 L1725.2,515.0 L1726.2,535.0 L1727.1,571.6 L1728.1,540.0 L1729.1,558.0 L1730.0,546.3 L1731.0,522.0 L1731.9,536.0 L1732.9,514.0 L1733.8,528.0 L1734.8,516.9 L1735.7,505.0 L1736.7,520.0 L1737.6,496.0 L1738.6,508.0 L1739.6,486.0 L1740.5,492.9 L1741.5,492.0 L1742.4,476.0 L1743.4,470.7 L1744.3,466.0 L1745.3,458.0 L1746.2,457.6 L1747.2,448.0 L1748.1,440.3 L1749.1,442.0 L1750.0,447.3 L1751.0,444.0 L1752.0,444.8 L1752.9,452.0 L1753.9,454.8 L1754.8,459.8 L1755.8,462.0 L1756.7,466.3 L1757.7,470.0 L1758.6,471.0 L1759.6,467.1 L1760.5,462.0 L1761.5,454.0"/>
<path class="ln" stroke="#2e75b6" d="M213.8,777.9 L214.8,778.5 L215.7,779.0 L216.7,780.1 L217.6,780.4 L218.6,783.4 L219.5,784.4 L220.5,784.1 L221.4,787.7 L222.4,785.9 L223.3,783.7 L224.3,782.4 L225.3,776.1 L226.2,775.3 L227.2,770.9 L228.1,773.0 L229.1,771.8 L230.0,774.3 L231.0,774.5 L231.9,777.0 L232.9,782.9 L233.8,786.3 L234.8,789.1 L235.7,790.2 L236.7,790.2 L237.7,790.8 L238.6,792.2 L239.6,794.1 L240.5,797.7 L241.5,816.7 L242.4,823.1 L243.4,828.8 L244.3,827.8 L245.3,824.8 L246.2,825.4 L247.2,821.2 L248.2,819.2 L249.1,814.9 L250.1,813.3 L251.0,813.3 L252.0,811.9 L252.9,808.0 L253.9,808.1 L254.8,806.3 L255.8,805.7 L256.7,806.8 L257.7,805.0 L258.6,802.4 L259.6,801.0 L260.6,802.3 L261.5,800.4 L262.5,800.7 L263.4,801.5 L264.4,800.7 L265.3,800.3 L266.3,802.0 L267.2,801.9 L268.2,801.7 L269.1,802.4 L270.1,804.6 L271.1,804.0 L272.0,803.3 L273.0,805.3 L273.9,804.1 L274.9,801.8 L275.8,798.6 L276.8,799.3 L277.7,797.2 L278.7,796.4 L279.6,791.9 L280.6,792.0 L281.5,792.0 L282.5,789.5 L283.5,789.4 L284.4,789.1 L285.4,790.7 L286.3,793.9 L287.3,792.9 L288.2,793.7 L289.2,793.0 L290.1,794.5 L291.1,795.5 L292.0,794.8 L293.0,795.1 L294.0,796.6 L294.9,791.3 L295.9,789.6 L296.8,790.3 L297.8,792.8 L298.7,790.0 L299.7,794.1 L300.6,794.6 L301.6,793.3 L302.5,793.6 L303.5,794.3 L304.4,792.0 L305.4,790.7 L306.4,789.9 L307.3,786.9 L308.3,785.1 L309.2,784.0 L310.2,783.8 L311.1,786.4 L312.1,785.6 L313.0,786.0 L314.0,784.8 L314.9,783.7 L315.9,785.4 L316.9,784.0 L317.8,781.6 L318.8,782.5 L319.7,784.6 L320.7,783.9 L321.6,784.4 L322.6,781.0 L323.5,783.4 L324.5,786.8 L325.4,792.1 L326.4,792.0 L327.3,791.7 L328.3,795.4 L329.3,797.2 L330.2,798.2 L331.2,795.9 L332.1,797.3 L333.1,797.7 L334.0,799.8 L335.0,800.7 L335.9,799.7 L336.9,801.0 L337.8,799.4 L338.8,797.5 L339.8,801.5 L340.7,802.3 L341.7,800.9 L342.6,799.3 L343.6,801.2 L344.5,803.2 L345.5,804.1 L346.4,804.6 L347.4,804.1 L348.3,803.9 L349.3,802.1 L350.2,804.1 L351.2,800.0 L352.2,799.4 L353.1,798.9 L354.1,799.5 L355.0,796.3 L356.0,797.0 L356.9,797.7 L357.9,797.4 L358.8,795.8 L359.8,796.8 L360.7,796.4 L361.7,794.3 L362.7,791.3 L363.6,793.6 L364.6,789.4 L365.5,787.9 L366.5,788.5 L367.4,788.0 L368.4,786.4 L369.3,787.4 L370.3,789.2 L371.2,790.3 L372.2,788.0 L373.2,788.7 L374.1,788.3 L375.1,789.0 L376.0,788.8 L377.0,788.8 L377.9,790.4 L378.9,791.5 L379.8,789.4 L380.8,790.3 L381.7,789.6 L382.7,788.5 L383.6,785.8 L384.6,794.3 L385.6,792.8 L386.5,791.3 L387.5,792.4 L388.4,800.0 L389.4,803.1 L390.3,805.1 L391.3,806.2 L392.2,806.2 L393.2,809.5 L394.1,810.1 L395.1,808.0 L396.1,808.8 L397.0,809.9 L398.0,808.6 L398.9,809.3 L399.9,809.9 L400.8,808.6 L401.8,810.3 L402.7,810.2 L403.7,808.0 L404.6,802.7 L405.6,801.7 L406.5,799.1 L407.5,793.1 L408.5,790.0 L409.4,784.4 L410.4,784.3 L411.3,785.4 L412.3,783.1 L413.2,782.1 L414.2,782.4 L415.1,782.4 L416.1,781.8 L417.0,780.8 L418.0,780.8 L419.0,783.4 L419.9,783.7 L420.9,781.0 L421.8,781.7 L422.8,781.8 L423.7,780.9 L424.7,784.3 L425.6,783.1 L426.6,782.5 L427.5,781.8 L428.5,780.1 L429.4,776.5 L430.4,778.7 L431.4,775.8 L432.3,773.7 L433.3,776.6 L434.2,771.0 L435.2,770.9 L436.1,771.8 L437.1,770.6 L438.0,769.2 L439.0,767.5 L439.9,766.7 L440.9,768.2 L441.9,764.6 L442.8,762.3 L443.8,764.2 L444.7,763.3 L445.7,759.5 L446.6,759.4 L447.6,757.3 L448.5,757.9 L449.5,761.9 L450.4,761.0 L451.4,758.5 L452.3,758.6 L453.3,756.7 L454.3,758.8 L455.2,761.1 L456.2,759.6 L457.1,760.7 L458.1,762.5 L459.0,761.7 L460.0,758.9 L460.9,758.5 L461.9,756.1 L462.8,757.3 L463.8,756.5 L464.8,758.9 L465.7,756.8 L466.7,753.2 L467.6,752.2 L468.6,753.6 L469.5,752.5 L470.5,752.8 L471.4,750.5 L472.4,752.6 L473.3,750.7 L474.3,749.2 L475.2,746.6 L476.2,755.4 L477.2,753.7 L478.1,752.5 L479.1,751.5 L480.0,750.8 L481.0,753.4 L481.9,754.4 L482.9,754.2 L483.8,754.6 L484.8,755.7 L485.7,753.5 L486.7,753.3 L487.7,753.9 L488.6,752.0 L489.6,753.2 L490.5,751.7 L491.5,750.7 L492.4,751.6 L493.4,749.0 L494.3,748.9 L495.3,749.9 L496.2,750.8 L497.2,750.7 L498.1,752.5 L499.1,754.5 L500.1,755.4 L501.0,754.2 L502.0,751.7 L502.9,754.5 L503.9,753.6 L504.8,754.6 L505.8,752.6 L506.7,752.5 L507.7,753.7 L508.6,753.3 L509.6,755.5 L510.6,755.1 L511.5,757.5 L512.5,754.7 L513.4,759.5 L514.4,758.6 L515.3,759.4 L516.3,759.8 L517.2,762.6 L518.2,763.9 L519.1,764.6 L520.1,766.0 L521.0,769.8 L522.0,772.6 L523.0,775.8 L523.9,784.8 L524.9,785.8 L525.8,793.1 L526.8,793.0 L527.7,796.5 L528.7,801.3 L529.6,803.1 L530.6,810.3 L531.5,818.7 L532.5,823.6 L533.5,831.6 L534.4,837.4 L535.4,826.4 L536.3,816.7 L537.3,816.5 L538.2,811.5 L539.2,814.5 L540.1,820.5 L541.1,830.5 L542.0,834.6 L543.0,835.5 L544.0,835.7 L544.9,835.2 L545.9,834.9 L546.8,830.3 L547.8,821.9 L548.7,821.1 L549.7,821.4 L550.6,816.7 L551.6,815.7 L552.5,815.6 L553.5,816.7 L554.4,815.0 L555.4,815.0 L556.4,817.2 L557.3,810.8 L558.3,814.6 L559.2,817.0 L560.2,813.3 L561.1,812.4 L562.1,812.4 L563.0,811.1 L564.0,813.6 L564.9,813.8 L565.9,813.9 L566.9,813.0 L567.8,810.9 L568.8,809.9 L569.7,809.1 L570.7,807.8 L571.6,807.1 L572.6,808.3 L573.5,804.0 L574.5,803.2 L575.4,802.6 L576.4,798.9 L577.3,790.5 L578.3,787.1 L579.3,783.6 L580.2,781.1 L581.2,781.9 L582.1,776.7 L583.1,775.6 L584.0,773.8 L585.0,773.1 L585.9,770.7 L586.9,770.5 L587.8,774.3 L588.8,778.4 L589.8,788.2 L590.7,792.3 L591.7,788.7 L592.6,790.3 L593.6,786.5 L594.5,783.6 L595.5,783.3 L596.4,784.2 L597.4,785.5 L598.3,787.1 L599.3,788.2 L600.2,788.0 L601.2,785.4 L602.2,785.8 L603.1,786.7 L604.1,787.3 L605.0,787.9 L606.0,790.5 L606.9,789.9 L607.9,790.5 L608.8,782.6 L609.8,780.2 L610.7,782.6 L611.7,781.1 L612.7,782.1 L613.6,782.7 L614.6,783.6 L615.5,786.0 L616.5,785.7 L617.4,787.1 L618.4,789.5 L619.3,791.8 L620.3,793.7 L621.2,799.2 L622.2,796.4 L623.1,795.8 L624.1,794.7 L625.1,792.3 L626.0,788.4 L627.0,781.8 L627.9,778.4 L628.9,779.5 L629.8,772.4 L630.8,771.9 L631.7,770.0 L632.7,777.7 L633.6,776.6 L634.6,775.9 L635.6,775.7 L636.5,775.8 L637.5,776.3 L638.4,774.1 L639.4,772.5 L640.3,773.1 L641.3,773.3 L642.2,771.5 L643.2,771.5 L644.1,770.2 L645.1,772.6 L646.0,774.8 L647.0,775.0 L648.0,773.9 L648.9,768.4 L649.9,767.2 L650.8,766.4 L651.8,768.7 L652.7,768.9 L653.7,769.4 L654.6,770.7 L655.6,769.4 L656.5,766.5 L657.5,767.7 L658.5,764.6 L659.4,764.9 L660.4,768.3 L661.3,770.3 L662.3,770.7 L663.2,767.0 L664.2,764.8 L665.1,762.9 L666.1,764.1 L667.0,765.3 L668.0,765.0 L668.9,769.8 L669.9,769.8 L670.9,768.9 L671.8,766.7 L672.8,765.6 L673.7,764.6 L674.7,766.7 L675.6,769.8 L676.6,770.2 L677.5,770.7 L678.5,768.8 L679.4,766.9 L680.4,769.4 L681.4,769.9 L682.3,768.7 L683.3,767.3 L684.2,758.0 L685.2,753.0 L686.1,748.3 L687.1,748.9 L688.0,747.6 L689.0,745.3 L689.9,744.8 L690.9,741.7 L691.9,742.2 L692.8,740.1 L693.8,738.0 L694.7,736.2 L695.7,734.5 L696.6,733.8 L697.6,733.6 L698.5,735.6 L699.5,736.3 L700.4,737.8 L701.4,737.9 L702.3,738.8 L703.3,736.4 L704.3,738.3 L705.2,736.9 L706.2,736.2 L707.1,737.1 L708.1,736.2 L709.0,729.4 L710.0,731.7 L710.9,732.7 L711.9,733.3 L712.8,737.0 L713.8,739.5 L714.8,738.8 L715.7,734.1 L716.7,725.8 L717.6,724.6 L718.6,729.2 L719.5,729.9 L720.5,727.6 L721.4,730.1 L722.4,726.0 L723.3,722.2 L724.3,717.2 L725.2,718.0 L726.2,715.7 L727.2,710.9 L728.1,716.7 L729.1,713.7 L730.0,715.4 L731.0,710.6 L731.9,712.0 L732.9,715.5 L733.8,717.2 L734.8,722.3 L735.7,726.0 L736.7,725.5 L737.7,727.5 L738.6,726.3 L739.6,723.3 L740.5,720.3 L741.5,717.2 L742.4,709.4 L743.4,710.7 L744.3,703.4 L745.3,704.2 L746.2,694.4 L747.2,696.4 L748.1,694.9 L749.1,696.8 L750.1,693.9 L751.0,697.6 L752.0,697.0 L752.9,703.4 L753.9,706.8 L754.8,708.0 L755.8,711.9 L756.7,715.4 L757.7,715.6 L758.6,714.7 L759.6,710.6 L760.6,710.0 L761.5,710.3 L762.5,711.7 L763.4,709.9 L764.4,706.8 L765.3,701.1 L766.3,695.3 L767.2,691.3 L768.2,690.6 L769.1,685.6 L770.1,683.5 L771.0,688.6 L772.0,692.3 L773.0,700.8 L773.9,700.5 L774.9,694.9 L775.8,690.5 L776.8,689.5 L777.7,688.5 L778.7,690.2 L779.6,685.2 L780.6,686.1 L781.5,686.8 L782.5,693.1 L783.5,693.4 L784.4,693.0 L785.4,689.3 L786.3,690.9 L787.3,694.5 L788.2,692.1 L789.2,696.4 L790.1,702.4 L791.1,706.8 L792.0,704.2 L793.0,703.8 L793.9,701.2 L794.9,698.2 L795.9,699.7 L796.8,702.8 L797.8,703.4 L798.7,700.6 L799.7,704.2 L800.6,695.4 L801.6,694.7 L802.5,695.4 L803.5,693.9 L804.4,693.0 L805.4,707.1 L806.4,715.4 L807.3,712.5 L808.3,710.5 L809.2,703.6 L810.2,703.4 L811.1,704.9 L812.1,699.5 L813.0,697.1 L814.0,698.2 L814.9,699.1 L815.9,696.8 L816.8,689.6 L817.8,693.0 L818.8,695.0 L819.7,692.1 L820.7,691.7 L821.6,692.2 L822.6,691.3 L823.5,690.7 L824.5,689.2 L825.4,683.6 L826.4,687.8 L827.3,692.9 L828.3,694.1 L829.3,700.9 L830.2,700.3 L831.2,703.4 L832.1,702.9 L833.1,696.7 L834.0,691.3 L835.0,691.9 L835.9,685.0 L836.9,689.9 L837.8,689.5 L838.8,692.7 L839.8,698.1 L840.7,697.9 L841.7,699.9 L842.6,695.3 L843.6,694.8 L844.5,689.5 L845.5,691.4 L846.4,692.9 L847.4,701.4 L848.3,700.6 L849.3,702.8 L850.2,705.1 L851.2,701.5 L852.2,696.6 L853.1,694.7 L854.1,694.7 L855.0,702.5 L856.0,704.5 L856.9,703.4 L857.9,699.7 L858.8,698.5 L859.8,695.9 L860.7,694.7 L861.7,696.4 L862.7,691.2 L863.6,689.8 L864.6,691.3 L865.5,694.4 L866.5,697.8 L867.4,700.8 L868.4,703.6 L869.3,705.4 L870.3,707.7 L871.2,704.0 L872.2,698.0 L873.1,698.9 L874.1,696.4 L875.1,689.8 L876.0,684.2 L877.0,680.9 L877.9,676.9 L878.9,673.2 L879.8,667.1 L880.8,665.1 L881.7,658.1 L882.7,658.3 L883.6,656.7 L884.6,657.8 L885.6,652.9 L886.5,654.1 L887.5,658.8 L888.4,667.5 L889.4,666.4 L890.3,670.5 L891.3,669.5 L892.2,669.6 L893.2,665.8 L894.1,662.5 L895.1,661.9 L896.0,669.4 L897.0,673.3 L898.0,677.4 L898.9,678.6 L899.9,682.3 L900.8,688.6 L901.8,691.3 L902.7,684.4 L903.7,685.3 L904.6,682.1 L905.6,677.4 L906.5,675.6 L907.5,674.6 L908.5,672.3 L909.4,674.6 L910.4,675.7 L911.3,676.7 L912.3,678.3 L913.2,672.8 L914.2,670.1 L915.1,676.3 L916.1,670.5 L917.0,664.6 L918.0,666.0 L918.9,665.4 L919.9,668.9 L920.9,671.5 L921.8,676.0 L922.8,674.9 L923.7,670.3 L924.7,669.2 L925.6,671.9 L926.6,667.1 L927.5,666.5 L928.5,667.2 L929.4,668.2 L930.4,667.2 L931.4,667.8 L932.3,670.5 L933.3,679.6 L934.2,682.2 L935.2,685.4 L936.1,693.0 L937.1,687.8 L938.0,688.8 L939.0,686.4 L939.9,678.4 L940.9,677.4 L941.8,676.2 L942.8,679.9 L943.8,674.4 L944.7,674.9 L945.7,678.7 L946.6,687.8 L947.6,690.4 L948.5,684.8 L949.5,688.6 L950.4,688.0 L951.4,680.9 L952.3,680.9 L953.3,680.4 L954.3,678.1 L955.2,677.4 L956.2,676.1 L957.1,672.1 L958.1,670.6 L959.0,667.9 L960.0,668.3 L960.9,668.8 L961.9,674.4 L962.8,674.0 L963.8,674.2 L964.7,675.1 L965.7,677.3 L966.7,679.2 L967.6,683.4 L968.6,686.0 L969.5,689.4 L970.5,689.5 L971.4,696.8 L972.4,705.8 L973.3,712.0 L974.3,708.2 L975.2,706.1 L976.2,698.3 L977.2,695.1 L978.1,691.3 L979.1,690.3 L980.0,687.1 L981.0,687.8 L981.9,686.1 L982.9,683.4 L983.8,690.6 L984.8,693.8 L985.7,691.3 L986.7,691.6 L987.7,691.6 L988.6,696.4 L989.6,697.4 L990.5,697.5 L991.5,697.3 L992.4,698.2 L993.4,701.0 L994.3,701.3 L995.3,702.9 L996.2,705.1 L997.2,718.0 L998.1,730.1 L999.1,729.4 L1000.1,727.6 L1001.0,725.3 L1002.0,725.9 L1002.9,720.2 L1003.9,720.6 L1004.8,715.4 L1005.8,708.1 L1006.7,698.2 L1007.7,696.3 L1008.6,689.3 L1009.6,682.9 L1010.6,679.2 L1011.5,676.3 L1012.5,680.8 L1013.4,681.3 L1014.4,679.2 L1015.3,681.5 L1016.3,684.1 L1017.2,679.5 L1018.2,684.4 L1019.1,685.9 L1020.1,688.0 L1021.0,686.1 L1022.0,688.5 L1023.0,689.5 L1023.9,688.1 L1024.9,687.2 L1025.8,687.8 L1026.8,689.6 L1027.7,689.1 L1028.7,691.0 L1029.6,693.4 L1030.6,690.9 L1031.5,693.0 L1032.5,695.4 L1033.5,690.4 L1034.4,685.7 L1035.4,691.8 L1036.3,691.3 L1037.3,695.0 L1038.2,695.8 L1039.2,702.8 L1040.1,707.2 L1041.1,707.2 L1042.0,710.3 L1043.0,707.7 L1043.9,711.4 L1044.9,709.1 L1045.9,705.2 L1046.8,701.8 L1047.8,701.5 L1048.7,703.2 L1049.7,700.5 L1050.6,698.3 L1051.6,696.7 L1052.5,695.3 L1053.5,693.7 L1054.4,685.6 L1055.4,684.4 L1056.4,684.6 L1057.3,681.3 L1058.3,686.3 L1059.2,684.6 L1060.2,682.7 L1061.1,691.7 L1062.1,699.7 L1063.0,705.2 L1064.0,706.5 L1064.9,707.1 L1065.9,713.0 L1066.8,712.9 L1067.8,713.0 L1068.8,709.1 L1069.7,705.7 L1070.7,705.2 L1071.6,704.4 L1072.6,703.5 L1073.5,705.5 L1074.5,707.2 L1075.4,705.2 L1076.4,702.5 L1077.3,705.3 L1078.3,702.9 L1079.3,700.0 L1080.2,696.6 L1081.2,698.5 L1082.1,695.8 L1083.1,696.9 L1084.0,694.1 L1085.0,693.1 L1085.9,691.0 L1086.9,687.8 L1087.8,687.1 L1088.8,687.9 L1089.7,688.1 L1090.7,689.9 L1091.7,686.9 L1092.6,683.4 L1093.6,685.5 L1094.5,686.2 L1095.5,685.9 L1096.4,685.7 L1097.4,680.1 L1098.3,683.2 L1099.3,681.0 L1100.2,680.2 L1101.2,681.9 L1102.2,675.4 L1103.1,669.5 L1104.1,668.9 L1105.0,668.8 L1106.0,673.8 L1106.9,674.0 L1107.9,675.8 L1108.8,677.9 L1109.8,679.4 L1110.7,681.3 L1111.7,685.2 L1112.6,686.2 L1113.6,686.8 L1114.6,691.0 L1115.5,691.6 L1116.5,691.5 L1117.4,693.1 L1118.4,691.0 L1119.3,686.7 L1120.3,689.7 L1121.2,689.5 L1122.2,686.2 L1123.1,688.2 L1124.1,692.9 L1125.1,698.3 L1126.0,699.0 L1127.0,701.4 L1127.9,701.6 L1128.9,701.3 L1129.8,700.7 L1130.8,703.1 L1131.7,704.3 L1132.7,704.6 L1133.6,706.9 L1134.6,703.2 L1135.5,700.0 L1136.5,698.2 L1137.5,697.0 L1138.4,701.8 L1139.4,698.8 L1140.3,694.4 L1141.3,696.5 L1142.2,694.8 L1143.2,694.4 L1144.1,697.6 L1145.1,695.2 L1146.0,693.1 L1147.0,693.2 L1148.0,689.2 L1148.9,685.3 L1149.9,687.6 L1150.8,687.9 L1151.8,689.4 L1152.7,688.3 L1153.7,687.1 L1154.6,687.9 L1155.6,682.6 L1156.5,684.4 L1157.5,684.1 L1158.5,682.8 L1159.4,681.1 L1160.4,677.5 L1161.3,677.0 L1162.3,680.5 L1163.2,669.8 L1164.2,667.5 L1165.1,668.9 L1166.1,670.7 L1167.0,665.9 L1168.0,662.9 L1168.9,666.1 L1169.9,663.7 L1170.9,665.7 L1171.8,667.3 L1172.8,670.1 L1173.7,672.3 L1174.7,675.2 L1175.6,673.2 L1176.6,675.0 L1177.5,677.5 L1178.5,677.1 L1179.4,674.6 L1180.4,672.0 L1181.4,670.6 L1182.3,675.0 L1183.3,682.8 L1184.2,687.9 L1185.2,687.7 L1186.1,694.6 L1187.1,690.1 L1188.0,689.6 L1189.0,688.6 L1189.9,691.0 L1190.9,694.3 L1191.8,694.4 L1192.8,692.2 L1193.8,694.8 L1194.7,694.3 L1195.7,696.8 L1196.6,695.2 L1197.6,692.1 L1198.5,691.3 L1199.5,691.8 L1200.4,688.5 L1201.4,686.0 L1202.3,688.2 L1203.3,687.9 L1204.3,684.7 L1205.2,674.1 L1206.2,670.7 L1207.1,672.4 L1208.1,670.2 L1209.0,671.3 L1210.0,668.9 L1210.9,670.0 L1211.9,671.8 L1212.8,669.1 L1213.8,667.7 L1214.7,671.5 L1215.7,672.7 L1216.7,670.8 L1217.6,669.7 L1218.6,662.3 L1219.5,666.2 L1220.5,665.4 L1221.4,666.4 L1222.4,668.4 L1223.3,659.9 L1224.3,663.7 L1225.2,664.7 L1226.2,664.9 L1227.2,668.3 L1228.1,669.9 L1229.1,668.9 L1230.0,663.6 L1231.0,659.8 L1231.9,659.9 L1232.9,656.8 L1233.8,651.5 L1234.8,648.2 L1235.7,647.8 L1236.7,659.0 L1237.6,663.9 L1238.6,665.4 L1239.6,667.2 L1240.5,671.8 L1241.5,675.3 L1242.4,680.1 L1243.4,676.6 L1244.3,676.8 L1245.3,672.3 L1246.2,670.9 L1247.2,668.9 L1248.1,666.8 L1249.1,660.8 L1250.1,660.5 L1251.0,656.8 L1252.0,650.6 L1252.9,651.9 L1253.9,653.4 L1254.8,652.3 L1255.8,651.4 L1256.7,663.2 L1257.7,660.3 L1258.6,656.5 L1259.6,653.1 L1260.5,649.9 L1261.5,649.5 L1262.5,650.7 L1263.4,650.9 L1264.4,653.5 L1265.3,653.9 L1266.3,653.4 L1267.2,651.4 L1268.2,646.3 L1269.1,645.2 L1270.1,643.0 L1271.0,643.1 L1272.0,641.3 L1273.0,637.7 L1273.9,642.8 L1274.9,641.3 L1275.8,641.9 L1276.8,634.8 L1277.7,635.4 L1278.7,634.4 L1279.6,633.4 L1280.6,625.0 L1281.5,626.1 L1282.5,618.8 L1283.4,618.8 L1284.4,616.1 L1285.4,618.9 L1286.3,618.6 L1287.3,620.5 L1288.2,623.0 L1289.2,627.7 L1290.1,628.3 L1291.1,626.4 L1292.0,624.3 L1293.0,619.8 L1293.9,615.2 L1294.9,613.6 L1295.9,606.7 L1296.8,597.6 L1297.8,591.2 L1298.7,595.2 L1299.7,589.8 L1300.6,588.5 L1301.6,589.0 L1302.5,589.4 L1303.5,589.3 L1304.4,590.2 L1305.4,598.1 L1306.4,595.5 L1307.3,590.2 L1308.3,588.5 L1309.2,582.5 L1310.2,583.0 L1311.1,591.6 L1312.1,589.1 L1313.0,591.2 L1314.0,595.8 L1314.9,598.5 L1315.9,606.7 L1316.8,603.4 L1317.8,604.4 L1318.8,599.3 L1319.7,599.7 L1320.7,596.4 L1321.6,595.2 L1322.6,592.9 L1323.5,595.8 L1324.5,592.9 L1325.4,592.7 L1326.4,589.4 L1327.3,579.8 L1328.3,581.3 L1329.3,579.1 L1330.2,581.7 L1331.2,588.8 L1332.1,593.9 L1333.1,592.9 L1334.0,586.3 L1335.0,587.8 L1335.9,587.7 L1336.9,588.4 L1337.8,598.8 L1338.8,602.6 L1339.7,601.1 L1340.7,603.3 L1341.7,603.0 L1342.6,601.4 L1343.6,598.9 L1344.5,596.4 L1345.5,589.2 L1346.4,580.9 L1347.4,575.7 L1348.3,570.4 L1349.3,569.4 L1350.2,572.2 L1351.2,569.3 L1352.2,567.0 L1353.1,566.9 L1354.1,558.8 L1355.0,560.4 L1356.0,561.0 L1356.9,558.4 L1357.9,558.4 L1358.8,558.2 L1359.8,561.4 L1360.7,559.8 L1361.7,558.4 L1362.6,560.1 L1363.6,565.1 L1364.6,564.7 L1365.5,571.3 L1366.5,583.1 L1367.4,589.2 L1368.4,595.1 L1369.3,588.9 L1370.3,587.6 L1371.2,581.4 L1372.2,575.5 L1373.1,575.1 L1374.1,571.0 L1375.1,575.0 L1376.0,572.7 L1377.0,578.0 L1377.9,572.6 L1378.9,581.1 L1379.8,591.5 L1380.8,595.3 L1381.7,600.0 L1382.7,597.5 L1383.6,589.5 L1384.6,588.8 L1385.5,582.6 L1386.5,581.1 L1387.5,574.7 L1388.4,576.0 L1389.4,571.3 L1390.3,570.8 L1391.3,571.9 L1392.2,569.2 L1393.2,566.4 L1394.1,564.7 L1395.1,566.4 L1396.0,564.3 L1397.0,562.3 L1398.0,566.3 L1398.9,563.2 L1399.9,561.5 L1400.8,562.9 L1401.8,564.1 L1402.7,561.5 L1403.7,560.1 L1404.6,558.9 L1405.6,564.6 L1406.5,563.4 L1407.5,565.7 L1408.4,564.9 L1409.4,566.3 L1410.4,563.6 L1411.3,565.5 L1412.3,568.5 L1413.2,572.7 L1414.2,574.1 L1415.1,571.4 L1416.1,573.4 L1417.0,578.4 L1418.0,578.3 L1418.9,578.3 L1419.9,572.8 L1420.9,576.2 L1421.8,577.9 L1422.8,574.1 L1423.7,573.3 L1424.7,572.0 L1425.6,565.2 L1426.6,568.5 L1427.5,568.1 L1428.5,564.8 L1429.4,566.3 L1430.4,560.5 L1431.3,560.1 L1432.3,556.1 L1433.3,549.8 L1434.2,546.1 L1435.2,532.0 L1436.1,530.5 L1437.1,534.8 L1438.0,529.8 L1439.0,527.8 L1439.9,525.3 L1440.9,530.5 L1441.8,526.4 L1442.8,525.8 L1443.8,528.6 L1444.7,535.8 L1445.7,534.8 L1446.6,529.6 L1447.6,532.0 L1448.5,527.7 L1449.5,525.0 L1450.4,525.2 L1451.4,518.4 L1452.3,522.2 L1453.3,521.2 L1454.3,515.4 L1455.2,513.8 L1456.2,511.8 L1457.1,509.7 L1458.1,506.8 L1459.0,503.8 L1460.0,497.4 L1460.9,498.4 L1461.9,497.5 L1462.8,493.0 L1463.8,489.8 L1464.7,490.0 L1465.7,485.9 L1466.7,487.5 L1467.6,483.0 L1468.6,482.1 L1469.5,480.7 L1470.5,480.2 L1471.4,484.5 L1472.4,492.0 L1473.3,498.5 L1474.3,499.8 L1475.2,496.2 L1476.2,489.8 L1477.2,482.2 L1478.1,476.0 L1479.1,462.9 L1480.0,460.6 L1481.0,461.9 L1481.9,468.0 L1482.9,463.5 L1483.8,463.4 L1484.8,464.4 L1485.7,467.4 L1486.7,467.6 L1487.6,467.8 L1488.6,470.9 L1489.6,478.0 L1490.5,481.6 L1491.5,479.0 L1492.4,471.8 L1493.4,467.5 L1494.3,467.6 L1495.3,476.2 L1496.2,484.6 L1497.2,495.3 L1498.1,499.8 L1499.1,496.2 L1500.1,493.8 L1501.0,494.6 L1502.0,489.8 L1502.9,487.2 L1503.9,479.9 L1504.8,477.2 L1505.8,471.8 L1506.7,471.3 L1507.7,473.6 L1508.6,473.0 L1509.6,471.8 L1510.5,473.7 L1511.5,473.8 L1512.5,477.8 L1513.4,480.2 L1514.4,479.3 L1515.3,468.1 L1516.3,469.0 L1517.2,470.1 L1518.2,464.9 L1519.1,466.2 L1520.1,472.6 L1521.0,470.8 L1522.0,471.3 L1523.0,473.2 L1523.9,465.8 L1524.9,461.7 L1525.8,464.1 L1526.8,460.6 L1527.7,461.2 L1528.7,458.5 L1529.6,456.7 L1530.6,465.9 L1531.5,466.2 L1532.5,468.7 L1533.4,461.6 L1534.4,462.0 L1535.4,471.8 L1536.3,479.0 L1537.3,481.6 L1538.2,475.3 L1539.2,477.1 L1540.1,474.4 L1541.1,467.9 L1542.0,466.2 L1543.0,455.2 L1543.9,452.1 L1544.9,449.4 L1545.9,444.1 L1546.8,434.0 L1547.8,430.5 L1548.7,427.1 L1549.7,431.2 L1550.6,430.0 L1551.6,427.5 L1552.5,425.9 L1553.5,428.5 L1554.4,434.4 L1555.4,428.1 L1556.3,431.8 L1557.3,432.1 L1558.3,433.2 L1559.2,434.7 L1560.2,480.3 L1561.1,472.6 L1562.1,464.1 L1563.0,455.3 L1564.0,458.0 L1564.9,458.8 L1565.9,461.2 L1566.8,517.1 L1567.8,593.5 L1568.8,584.0 L1569.7,561.2 L1570.7,545.1 L1571.6,531.8 L1572.6,521.6 L1573.5,517.1 L1574.5,501.5 L1575.4,495.0 L1576.4,495.9 L1577.3,490.4 L1578.3,485.4 L1579.2,486.2 L1580.2,491.7 L1581.2,484.9 L1582.1,492.1 L1583.1,489.8 L1584.0,478.1 L1585.0,475.9 L1585.9,476.5 L1586.9,476.4 L1587.8,474.4 L1588.8,485.5 L1589.7,502.4 L1590.7,509.9 L1591.7,515.8 L1592.6,521.5 L1593.6,519.1 L1594.5,517.3 L1595.5,514.1 L1596.4,507.9 L1597.4,509.0 L1598.3,497.1 L1599.3,487.6 L1600.2,481.3 L1601.2,471.7 L1602.1,465.6 L1603.1,467.7 L1604.1,464.4 L1605.0,467.1 L1606.0,470.9 L1606.9,478.1 L1607.9,481.5 L1608.8,484.7 L1609.8,476.4 L1610.7,472.0 L1611.7,467.1 L1612.6,467.4 L1613.6,468.5 L1614.6,471.5 L1615.5,476.5 L1616.5,485.4 L1617.4,478.7 L1618.4,484.7 L1619.3,490.7 L1620.3,493.3 L1621.2,495.0 L1622.2,492.7 L1623.1,488.7 L1624.1,481.8 L1625.1,477.0 L1626.0,472.2 L1627.0,471.4 L1627.9,467.1 L1628.9,468.0 L1629.8,465.0 L1630.8,465.6 L1631.7,469.8 L1632.7,470.7 L1633.6,475.2 L1634.6,478.8 L1635.5,475.9 L1636.5,477.3 L1637.5,472.9 L1638.4,473.7 L1639.4,479.0 L1640.3,478.6 L1641.3,480.5 L1642.2,483.2 L1643.2,476.2 L1644.1,466.7 L1645.1,464.1 L1646.0,466.7 L1647.0,465.8 L1648.0,460.2 L1648.9,461.2 L1649.9,461.7 L1650.8,453.0 L1651.8,460.8 L1652.7,458.2 L1653.7,462.1 L1654.6,468.5 L1655.6,467.0 L1656.5,472.9 L1657.5,469.2 L1658.4,466.0 L1659.4,455.6 L1660.4,450.9 L1661.3,454.8 L1662.3,458.6 L1663.2,459.9 L1664.2,461.2 L1665.1,457.1 L1666.1,453.2 L1667.0,453.4 L1668.0,453.8 L1668.9,460.1 L1669.9,467.9 L1670.9,470.6 L1671.8,472.9 L1672.8,474.1 L1673.7,476.0 L1674.7,475.9 L1675.6,478.8 L1676.6,474.7 L1677.5,470.2 L1678.5,463.8 L1679.4,464.1 L1680.4,463.1 L1681.3,462.3 L1682.3,455.3 L1683.3,460.1 L1684.2,464.2 L1685.2,462.1 L1686.1,468.5 L1687.1,471.2 L1688.0,460.7 L1689.0,464.7 L1689.9,464.1 L1690.9,466.3 L1691.8,462.7 L1692.8,461.0 L1693.8,461.2 L1694.7,461.4 L1695.7,458.4 L1696.6,459.5 L1697.6,456.8 L1698.5,459.0 L1699.5,465.6 L1700.4,474.5 L1701.4,477.4 L1702.3,471.3 L1703.3,465.8 L1704.2,461.2 L1705.2,462.6 L1706.2,464.8 L1707.1,475.3 L1708.1,475.9 L1709.0,480.3 L1710.0,470.6 L1710.9,466.8 L1711.9,453.8 L1712.8,450.5 L1713.8,452.4 L1714.7,451.8 L1715.7,449.4 L1716.7,448.1 L1717.6,447.0 L1718.6,442.8 L1719.5,442.7 L1720.5,444.0 L1721.4,457.0 L1722.4,478.0 L1723.3,486.0 L1724.3,481.0 L1725.2,499.0 L1726.2,521.0 L1727.1,567.5 L1728.1,530.0 L1729.1,550.0 L1730.0,532.2 L1731.0,512.0 L1731.9,528.0 L1732.9,505.0 L1733.8,520.0 L1734.8,510.0 L1735.7,495.0 L1736.7,512.0 L1737.6,485.0 L1738.6,497.0 L1739.6,473.0 L1740.5,481.7 L1741.5,478.0 L1742.4,463.0 L1743.4,462.0 L1744.3,457.0 L1745.3,455.0 L1746.2,450.7 L1747.2,449.0 L1748.1,446.8 L1749.1,446.0 L1750.0,449.0 L1751.0,448.0 L1752.0,452.8 L1752.9,455.0 L1753.9,454.4 L1754.8,463.7 L1755.8,460.0 L1756.7,450.5 L1757.7,452.0 L1758.6,440.0 L1759.6,443.6 L1760.5,437.0 L1761.5,447.0"/>
<path class="ln" stroke="#ff0000" d="M213.8,775.3 L214.8,774.7 L215.7,772.9 L216.7,773.9 L217.6,773.5 L218.6,775.6 L219.5,778.8 L220.5,782.1 L221.4,783.9 L222.4,783.7 L223.3,781.8 L224.3,779.8 L225.3,779.3 L226.2,778.7 L227.2,777.7 L228.1,775.8 L229.1,777.7 L230.0,775.3 L231.0,780.1 L231.9,789.1 L232.9,793.6 L233.8,796.0 L234.8,792.5 L235.7,794.2 L236.7,790.8 L237.7,789.6 L238.6,789.2 L239.6,792.8 L240.5,794.3 L241.5,816.7 L242.4,823.4 L243.4,825.4 L244.3,823.3 L245.3,821.7 L246.2,821.9 L247.2,818.4 L248.2,813.3 L249.1,807.9 L250.1,801.2 L251.0,804.1 L252.0,804.6 L252.9,796.9 L253.9,796.0 L254.8,795.1 L255.8,792.5 L256.7,792.3 L257.7,790.1 L258.6,785.6 L259.6,784.6 L260.6,783.2 L261.5,780.4 L262.5,781.1 L263.4,781.0 L264.4,781.3 L265.3,783.8 L266.3,780.1 L267.2,778.3 L268.2,779.6 L269.1,783.5 L270.1,786.2 L271.1,787.4 L272.0,786.2 L273.0,789.1 L273.9,790.1 L274.9,784.4 L275.8,778.7 L276.8,777.2 L277.7,776.5 L278.7,775.3 L279.6,774.5 L280.6,776.5 L281.5,774.4 L282.5,774.4 L283.5,777.7 L284.4,777.0 L285.4,775.7 L286.3,776.1 L287.3,774.8 L288.2,775.3 L289.2,783.6 L290.1,789.1 L291.1,791.3 L292.0,791.7 L293.0,789.7 L294.0,784.5 L294.9,785.6 L295.9,787.9 L296.8,781.8 L297.8,780.4 L298.7,780.7 L299.7,779.0 L300.6,779.6 L301.6,785.6 L302.5,786.0 L303.5,783.9 L304.4,779.4 L305.4,774.0 L306.4,771.8 L307.3,771.0 L308.3,770.1 L309.2,767.5 L310.2,770.0 L311.1,771.4 L312.1,770.1 L313.0,768.4 L314.0,770.2 L314.9,767.5 L315.9,768.6 L316.9,767.5 L317.8,768.8 L318.8,765.7 L319.7,771.1 L320.7,771.8 L321.6,774.7 L322.6,774.5 L323.5,772.2 L324.5,775.3 L325.4,775.2 L326.4,779.0 L327.3,780.4 L328.3,783.9 L329.3,784.3 L330.2,781.7 L331.2,785.6 L332.1,787.1 L333.1,788.6 L334.0,790.8 L335.0,794.5 L335.9,795.2 L336.9,796.0 L337.8,797.6 L338.8,797.5 L339.8,799.4 L340.7,799.8 L341.7,801.6 L342.6,800.8 L343.6,802.9 L344.5,805.6 L345.5,806.8 L346.4,808.9 L347.4,806.1 L348.3,804.1 L349.3,801.2 L350.2,800.7 L351.2,796.0 L352.2,796.0 L353.1,797.3 L354.1,801.7 L355.0,803.8 L356.0,807.0 L356.9,801.3 L357.9,801.2 L358.8,799.6 L359.8,797.6 L360.7,796.0 L361.7,791.3 L362.7,791.7 L363.6,789.1 L364.6,789.9 L365.5,788.2 L366.5,790.4 L367.4,786.4 L368.4,788.6 L369.3,791.9 L370.3,790.8 L371.2,790.2 L372.2,789.5 L373.2,792.5 L374.1,799.0 L375.1,800.3 L376.0,797.6 L377.0,795.2 L377.9,796.0 L378.9,796.9 L379.8,791.7 L380.8,793.0 L381.7,794.3 L382.7,798.1 L383.6,801.2 L384.6,801.5 L385.6,809.8 L386.5,812.2 L387.5,814.4 L388.4,814.1 L389.4,815.7 L390.3,815.1 L391.3,818.4 L392.2,820.0 L393.2,819.7 L394.1,817.0 L395.1,820.2 L396.1,819.2 L397.0,818.6 L398.0,816.7 L398.9,817.7 L399.9,819.4 L400.8,821.0 L401.8,821.6 L402.7,820.2 L403.7,818.4 L404.6,816.7 L405.6,817.3 L406.5,814.5 L407.5,813.7 L408.5,813.3 L409.4,802.9 L410.4,798.1 L411.3,790.8 L412.3,790.7 L413.2,789.5 L414.2,788.5 L415.1,787.4 L416.1,786.7 L417.0,787.1 L418.0,787.7 L419.0,788.2 L419.9,788.2 L420.9,785.6 L421.8,786.5 L422.8,787.0 L423.7,789.0 L424.7,789.1 L425.6,791.2 L426.6,793.6 L427.5,796.0 L428.5,795.0 L429.4,792.8 L430.4,792.3 L431.4,792.5 L432.3,790.6 L433.3,789.3 L434.2,785.6 L435.2,781.1 L436.1,781.9 L437.1,782.6 L438.0,780.4 L439.0,778.5 L439.9,778.3 L440.9,778.1 L441.9,775.3 L442.8,774.3 L443.8,773.3 L444.7,774.4 L445.7,771.8 L446.6,769.5 L447.6,768.7 L448.5,766.6 L449.5,764.6 L450.4,767.4 L451.4,765.3 L452.3,765.8 L453.3,769.1 L454.3,771.9 L455.2,770.1 L456.2,770.3 L457.1,775.3 L458.1,774.7 L459.0,772.2 L460.0,773.9 L460.9,772.7 L461.9,770.7 L462.8,771.0 L463.8,770.9 L464.8,770.8 L465.7,769.6 L466.7,770.7 L467.6,768.4 L468.6,767.6 L469.5,766.4 L470.5,765.2 L471.4,764.6 L472.4,764.9 L473.3,765.3 L474.3,767.1 L475.2,766.1 L476.2,765.8 L477.2,766.7 L478.1,765.7 L479.1,768.9 L480.0,769.2 L481.0,767.9 L481.9,769.7 L482.9,771.8 L483.8,774.1 L484.8,771.1 L485.7,771.7 L486.7,773.6 L487.7,775.3 L488.6,775.7 L489.6,771.8 L490.5,773.6 L491.5,773.5 L492.4,773.3 L493.4,771.7 L494.3,771.1 L495.3,775.6 L496.2,772.7 L497.2,774.1 L498.1,776.1 L499.1,779.8 L500.1,780.4 L501.0,781.1 L502.0,784.8 L502.9,787.3 L503.9,786.6 L504.8,786.2 L505.8,785.6 L506.7,782.0 L507.7,778.0 L508.6,778.7 L509.6,777.2 L510.6,782.2 L511.5,784.0 L512.5,784.8 L513.4,788.3 L514.4,787.4 L515.3,788.8 L516.3,788.2 L517.2,789.6 L518.2,792.5 L519.1,801.2 L520.1,806.4 L521.0,807.8 L522.0,812.8 L523.0,816.7 L523.9,827.8 L524.9,832.3 L525.8,843.4 L526.8,851.3 L527.7,872.0 L528.7,874.5 L529.6,874.1 L530.6,876.9 L531.5,879.8 L532.5,878.1 L533.5,871.9 L534.4,864.2 L535.4,860.0 L536.3,855.4 L537.3,844.1 L538.2,838.3 L539.2,870.8 L540.1,861.4 L541.1,848.4 L542.0,852.3 L543.0,859.3 L544.0,866.3 L544.9,862.7 L545.9,856.6 L546.8,849.4 L547.8,843.9 L548.7,848.6 L549.7,848.4 L550.6,850.0 L551.6,850.1 L552.5,854.3 L553.5,858.5 L554.4,860.9 L555.4,861.8 L556.4,855.3 L557.3,855.2 L558.3,851.3 L559.2,848.7 L560.2,845.2 L561.1,843.5 L562.1,845.9 L563.0,848.1 L564.0,850.8 L564.9,852.0 L565.9,854.4 L566.9,852.4 L567.8,850.2 L568.8,849.1 L569.7,849.5 L570.7,845.8 L571.6,845.0 L572.6,845.1 L573.5,849.6 L574.5,849.5 L575.4,849.3 L576.4,849.1 L577.3,850.3 L578.3,846.2 L579.3,845.8 L580.2,832.8 L581.2,826.8 L582.1,824.0 L583.1,823.4 L584.0,819.6 L585.0,817.4 L585.9,813.0 L586.9,816.6 L587.8,817.7 L588.8,816.4 L589.8,822.1 L590.7,832.0 L591.7,831.2 L592.6,832.8 L593.6,826.8 L594.5,828.5 L595.5,830.8 L596.4,835.5 L597.4,837.2 L598.3,837.5 L599.3,842.0 L600.2,842.3 L601.2,840.8 L602.2,841.4 L603.1,841.1 L604.1,838.9 L605.0,841.0 L606.0,844.1 L606.9,844.5 L607.9,847.5 L608.8,842.2 L609.8,838.1 L610.7,834.6 L611.7,835.2 L612.7,837.3 L613.6,839.3 L614.6,838.3 L615.5,840.6 L616.5,842.5 L617.4,845.0 L618.4,845.8 L619.3,849.8 L620.3,853.1 L621.2,861.3 L622.2,860.6 L623.1,857.9 L624.1,855.3 L625.1,852.7 L626.0,845.9 L627.0,838.9 L627.9,838.2 L628.9,833.2 L629.8,833.7 L630.8,834.8 L631.7,837.2 L632.7,838.1 L633.6,838.9 L634.6,839.8 L635.6,841.3 L636.5,838.0 L637.5,836.9 L638.4,834.8 L639.4,831.8 L640.3,832.0 L641.3,831.3 L642.2,833.4 L643.2,829.5 L644.1,832.6 L645.1,831.1 L646.0,829.7 L647.0,833.7 L648.0,833.1 L648.9,829.9 L649.9,830.4 L650.8,827.7 L651.8,828.3 L652.7,830.4 L653.7,832.8 L654.6,832.7 L655.6,833.3 L656.5,831.4 L657.5,832.0 L658.5,835.0 L659.4,839.3 L660.4,839.2 L661.3,842.3 L662.3,839.3 L663.2,839.7 L664.2,835.4 L665.1,834.9 L666.1,837.4 L667.0,839.3 L668.0,837.2 L668.9,836.6 L669.9,840.9 L670.9,841.6 L671.8,841.5 L672.8,840.7 L673.7,841.3 L674.7,839.6 L675.6,840.0 L676.6,838.9 L677.5,840.3 L678.5,842.4 L679.4,847.3 L680.4,848.4 L681.4,843.4 L682.3,835.4 L683.3,830.7 L684.2,823.4 L685.2,824.4 L686.1,821.9 L687.1,818.5 L688.0,821.4 L689.0,819.9 L689.9,817.5 L690.9,821.1 L691.9,818.8 L692.8,819.0 L693.8,820.1 L694.7,820.8 L695.7,821.1 L696.6,823.4 L697.6,827.5 L698.5,826.2 L699.5,830.3 L700.4,829.5 L701.4,826.6 L702.3,826.6 L703.3,823.4 L704.3,820.7 L705.2,823.7 L706.2,823.7 L707.1,819.3 L708.1,818.2 L709.0,816.0 L710.0,816.6 L710.9,817.3 L711.9,819.6 L712.8,818.5 L713.8,822.5 L714.8,820.9 L715.7,821.8 L716.7,819.1 L717.6,817.3 L718.6,815.5 L719.5,818.4 L720.5,816.4 L721.4,816.7 L722.4,818.6 L723.3,819.3 L724.3,820.8 L725.2,814.7 L726.2,804.4 L727.2,804.4 L728.1,801.7 L729.1,800.0 L730.0,801.0 L731.0,804.1 L731.9,803.7 L732.9,804.4 L733.8,805.6 L734.8,805.1 L735.7,809.3 L736.7,808.3 L737.7,810.4 L738.6,811.1 L739.6,807.9 L740.5,804.6 L741.5,804.4 L742.4,798.1 L743.4,791.9 L744.3,788.8 L745.3,788.3 L746.2,784.6 L747.2,781.9 L748.1,780.3 L749.1,777.7 L750.1,777.6 L751.0,775.9 L752.0,779.0 L752.9,776.1 L753.9,780.8 L754.8,783.6 L755.8,783.7 L756.7,780.5 L757.7,781.4 L758.6,780.2 L759.6,778.1 L760.6,778.3 L761.5,776.4 L762.5,773.3 L763.4,768.2 L764.4,770.1 L765.3,761.2 L766.3,759.3 L767.2,751.0 L768.2,747.4 L769.1,747.3 L770.1,743.7 L771.0,743.9 L772.0,745.2 L773.0,749.4 L773.9,746.6 L774.9,748.2 L775.8,749.8 L776.8,752.3 L777.7,751.2 L778.7,750.8 L779.6,750.6 L780.6,754.6 L781.5,756.9 L782.5,755.2 L783.5,761.7 L784.4,762.5 L785.4,762.9 L786.3,761.0 L787.3,764.1 L788.2,764.6 L789.2,769.2 L790.1,768.6 L791.1,774.1 L792.0,774.6 L793.0,769.7 L793.9,772.7 L794.9,770.6 L795.9,769.8 L796.8,766.8 L797.8,762.3 L798.7,763.5 L799.7,761.2 L800.6,757.4 L801.6,757.0 L802.5,757.8 L803.5,756.0 L804.4,759.6 L805.4,759.0 L806.4,763.2 L807.3,764.6 L808.3,758.6 L809.2,756.0 L810.2,757.9 L811.1,757.7 L812.1,759.9 L813.0,758.9 L814.0,761.2 L814.9,760.2 L815.9,761.3 L816.8,756.6 L817.8,756.0 L818.8,755.6 L819.7,756.5 L820.7,754.3 L821.6,754.1 L822.6,755.1 L823.5,759.1 L824.5,758.6 L825.4,762.0 L826.4,761.0 L827.3,762.9 L828.3,764.9 L829.3,767.7 L830.2,768.3 L831.2,772.4 L832.1,769.4 L833.1,764.8 L834.0,762.3 L835.0,759.4 L835.9,760.5 L836.9,762.0 L837.8,761.2 L838.8,762.5 L839.8,762.9 L840.7,768.2 L841.7,768.9 L842.6,764.4 L843.6,764.0 L844.5,761.2 L845.5,762.5 L846.4,765.4 L847.4,766.4 L848.3,767.7 L849.3,770.7 L850.2,770.5 L851.2,766.7 L852.2,764.0 L853.1,766.5 L854.1,764.6 L855.0,765.4 L856.0,765.5 L856.9,765.5 L857.9,763.8 L858.8,762.2 L859.8,766.2 L860.7,762.8 L861.7,762.9 L862.7,759.6 L863.6,755.1 L864.6,756.6 L865.5,758.8 L866.5,759.0 L867.4,761.2 L868.4,765.0 L869.3,765.0 L870.3,769.8 L871.2,769.1 L872.2,769.4 L873.1,766.4 L874.1,767.2 L875.1,765.2 L876.0,759.0 L877.0,763.0 L877.9,761.2 L878.9,756.9 L879.8,756.0 L880.8,752.5 L881.7,746.2 L882.7,743.9 L883.6,743.1 L884.6,743.3 L885.6,737.9 L886.5,739.1 L887.5,744.5 L888.4,742.4 L889.4,746.7 L890.3,747.4 L891.3,742.1 L892.2,740.8 L893.2,733.8 L894.1,731.8 L895.1,733.4 L896.0,737.4 L897.0,740.2 L898.0,743.3 L898.9,743.9 L899.9,742.2 L900.8,739.6 L901.8,737.6 L902.7,735.3 L903.7,733.8 L904.6,730.3 L905.6,737.7 L906.5,734.0 L907.5,731.8 L908.5,734.0 L909.4,735.0 L910.4,737.6 L911.3,738.7 L912.3,739.2 L913.2,738.3 L914.2,735.5 L915.1,740.2 L916.1,739.6 L917.0,738.4 L918.0,742.0 L918.9,745.1 L919.9,743.0 L920.9,741.5 L921.8,742.2 L922.8,742.3 L923.7,745.9 L924.7,744.8 L925.6,746.7 L926.6,745.8 L927.5,745.7 L928.5,746.5 L929.4,746.7 L930.4,748.5 L931.4,749.8 L932.3,747.2 L933.3,749.1 L934.2,752.4 L935.2,758.2 L936.1,761.2 L937.1,759.2 L938.0,754.2 L939.0,752.5 L939.9,752.7 L940.9,749.0 L941.8,743.2 L942.8,744.8 L943.8,745.1 L944.7,741.3 L945.7,743.9 L946.6,746.8 L947.6,745.8 L948.5,749.9 L949.5,747.3 L950.4,743.5 L951.4,748.2 L952.3,745.7 L953.3,743.9 L954.3,739.1 L955.2,732.4 L956.2,732.2 L957.1,730.6 L958.1,725.8 L959.0,720.2 L960.0,716.2 L960.9,713.7 L961.9,717.3 L962.8,710.5 L963.8,707.8 L964.7,708.5 L965.7,711.8 L966.7,717.8 L967.6,719.0 L968.6,722.1 L969.5,725.8 L970.5,730.2 L971.4,730.5 L972.4,738.5 L973.3,739.6 L974.3,737.4 L975.2,733.0 L976.2,730.8 L977.2,724.6 L978.1,724.1 L979.1,715.5 L980.0,713.5 L981.0,706.8 L981.9,704.8 L982.9,707.4 L983.8,705.5 L984.8,705.2 L985.7,703.4 L986.7,705.9 L987.7,712.7 L988.6,713.2 L989.6,718.9 L990.5,716.9 L991.5,711.5 L992.4,710.7 L993.4,704.8 L994.3,701.6 L995.3,706.4 L996.2,711.5 L997.2,713.0 L998.1,718.4 L999.1,725.8 L1000.1,723.1 L1001.0,718.5 L1002.0,713.8 L1002.9,707.9 L1003.9,703.4 L1004.8,692.6 L1005.8,693.1 L1006.7,687.8 L1007.7,684.7 L1008.6,681.8 L1009.6,681.2 L1010.6,688.4 L1011.5,688.2 L1012.5,686.2 L1013.4,691.3 L1014.4,695.1 L1015.3,694.7 L1016.3,695.0 L1017.2,702.0 L1018.2,704.2 L1019.1,708.5 L1020.1,707.4 L1021.0,706.2 L1022.0,701.6 L1023.0,698.2 L1023.9,698.9 L1024.9,692.8 L1025.8,690.4 L1026.8,692.4 L1027.7,695.7 L1028.7,699.3 L1029.6,706.2 L1030.6,707.7 L1031.5,701.6 L1032.5,700.8 L1033.5,697.4 L1034.4,693.0 L1035.4,692.9 L1036.3,694.2 L1037.3,694.8 L1038.2,697.7 L1039.2,700.1 L1040.1,702.3 L1041.1,701.7 L1042.0,700.4 L1043.0,697.1 L1043.9,695.2 L1044.9,694.9 L1045.9,693.1 L1046.8,690.8 L1047.8,681.5 L1048.7,679.8 L1049.7,679.3 L1050.6,677.5 L1051.6,676.1 L1052.5,677.1 L1053.5,674.1 L1054.4,673.6 L1055.4,675.4 L1056.4,671.7 L1057.3,670.6 L1058.3,671.0 L1059.2,671.5 L1060.2,679.3 L1061.1,683.3 L1062.1,689.6 L1063.0,695.8 L1064.0,696.2 L1064.9,694.4 L1065.9,703.4 L1066.8,701.7 L1067.8,699.4 L1068.8,697.3 L1069.7,691.3 L1070.7,690.9 L1071.6,694.8 L1072.6,693.7 L1073.5,699.0 L1074.5,700.0 L1075.4,696.8 L1076.4,697.5 L1077.3,691.4 L1078.3,689.6 L1079.3,690.1 L1080.2,687.2 L1081.2,685.0 L1082.1,682.7 L1083.1,680.0 L1084.0,681.8 L1085.0,682.6 L1085.9,681.0 L1086.9,679.7 L1087.8,679.6 L1088.8,679.1 L1089.7,679.3 L1090.7,677.3 L1091.7,678.9 L1092.6,688.0 L1093.6,686.6 L1094.5,686.2 L1095.5,686.4 L1096.4,680.2 L1097.4,677.7 L1098.3,677.5 L1099.3,676.2 L1100.2,673.5 L1101.2,676.1 L1102.2,674.8 L1103.1,673.2 L1104.1,670.8 L1105.0,676.0 L1106.0,674.0 L1106.9,674.1 L1107.9,674.1 L1108.8,674.4 L1109.8,670.7 L1110.7,668.5 L1111.7,667.9 L1112.6,670.1 L1113.6,668.0 L1114.6,671.7 L1115.5,675.7 L1116.5,680.1 L1117.4,677.4 L1118.4,674.2 L1119.3,677.2 L1120.3,673.9 L1121.2,669.8 L1122.2,670.3 L1123.1,672.0 L1124.1,671.1 L1125.1,674.1 L1126.0,680.0 L1127.0,678.7 L1127.9,679.6 L1128.9,684.4 L1129.8,689.6 L1130.8,686.4 L1131.7,691.8 L1132.7,695.7 L1133.6,694.1 L1134.6,692.0 L1135.5,685.4 L1136.5,682.7 L1137.5,682.0 L1138.4,682.3 L1139.4,686.0 L1140.3,687.1 L1141.3,686.2 L1142.2,683.8 L1143.2,686.9 L1144.1,681.9 L1145.1,679.3 L1146.0,679.1 L1147.0,681.4 L1148.0,678.6 L1148.9,682.3 L1149.9,682.7 L1150.8,681.8 L1151.8,678.1 L1152.7,672.1 L1153.7,672.3 L1154.6,669.7 L1155.6,665.1 L1156.5,660.3 L1157.5,660.4 L1158.5,657.0 L1159.4,656.8 L1160.4,656.8 L1161.3,657.9 L1162.3,652.7 L1163.2,646.7 L1164.2,646.4 L1165.1,642.4 L1166.1,649.8 L1167.0,644.6 L1168.0,642.1 L1168.9,644.1 L1169.9,643.6 L1170.9,644.6 L1171.8,646.4 L1172.8,648.0 L1173.7,649.1 L1174.7,650.7 L1175.6,651.6 L1176.6,648.1 L1177.5,645.4 L1178.5,649.0 L1179.4,644.7 L1180.4,643.1 L1181.4,642.2 L1182.3,639.4 L1183.3,639.3 L1184.2,637.8 L1185.2,635.5 L1186.1,632.3 L1187.1,633.2 L1188.0,632.6 L1189.0,631.9 L1189.9,635.9 L1190.9,640.6 L1191.8,638.2 L1192.8,637.8 L1193.8,637.6 L1194.7,639.7 L1195.7,645.3 L1196.6,646.4 L1197.6,644.0 L1198.5,642.0 L1199.5,641.7 L1200.4,639.5 L1201.4,637.6 L1202.3,635.2 L1203.3,633.5 L1204.3,633.0 L1205.2,630.9 L1206.2,625.5 L1207.1,617.1 L1208.1,617.6 L1209.0,617.9 L1210.0,617.1 L1210.9,615.4 L1211.9,618.6 L1212.8,617.6 L1213.8,616.9 L1214.7,622.3 L1215.7,620.3 L1216.7,616.3 L1217.6,611.9 L1218.6,607.2 L1219.5,603.1 L1220.5,600.5 L1221.4,596.4 L1222.4,590.3 L1223.3,587.7 L1224.3,588.1 L1225.2,590.5 L1226.2,582.4 L1227.2,582.5 L1228.1,583.2 L1229.1,582.6 L1230.0,585.4 L1231.0,584.3 L1231.9,581.3 L1232.9,567.0 L1233.8,564.1 L1234.8,566.9 L1235.7,561.8 L1236.7,562.0 L1237.6,572.8 L1238.6,582.5 L1239.6,596.2 L1240.5,600.8 L1241.5,606.7 L1242.4,614.6 L1243.4,620.5 L1244.3,616.5 L1245.3,616.3 L1246.2,613.9 L1247.2,606.7 L1248.1,597.9 L1249.1,597.0 L1250.1,595.0 L1251.0,592.9 L1252.0,591.3 L1252.9,581.1 L1253.9,586.0 L1254.8,585.2 L1255.8,584.3 L1256.7,581.4 L1257.7,579.1 L1258.6,577.6 L1259.6,570.5 L1260.5,575.6 L1261.5,572.2 L1262.5,572.9 L1263.4,580.6 L1264.4,576.5 L1265.3,580.7 L1266.3,584.3 L1267.2,585.0 L1268.2,583.4 L1269.1,580.6 L1270.1,580.8 L1271.0,578.9 L1272.0,571.7 L1273.0,573.9 L1273.9,571.9 L1274.9,567.9 L1275.8,570.4 L1276.8,572.8 L1277.7,574.5 L1278.7,579.1 L1279.6,578.7 L1280.6,575.5 L1281.5,572.1 L1282.5,574.3 L1283.4,572.2 L1284.4,575.6 L1285.4,577.1 L1286.3,580.2 L1287.3,582.2 L1288.2,586.0 L1289.2,585.3 L1290.1,582.0 L1291.1,579.1 L1292.0,570.3 L1293.0,568.7 L1293.9,559.4 L1294.9,559.8 L1295.9,561.5 L1296.8,553.2 L1297.8,545.2 L1298.7,543.7 L1299.7,544.5 L1300.6,542.8 L1301.6,541.7 L1302.5,539.1 L1303.5,538.6 L1304.4,537.8 L1305.4,535.9 L1306.4,531.7 L1307.3,526.9 L1308.3,523.8 L1309.2,524.5 L1310.2,516.4 L1311.1,518.2 L1312.1,515.2 L1313.0,519.3 L1314.0,522.8 L1314.9,525.8 L1315.9,530.7 L1316.8,527.6 L1317.8,525.2 L1318.8,525.9 L1319.7,525.2 L1320.7,525.5 L1321.6,517.0 L1322.6,510.8 L1323.5,502.4 L1324.5,499.9 L1325.4,493.8 L1326.4,491.8 L1327.3,494.0 L1328.3,492.7 L1329.3,492.1 L1330.2,494.1 L1331.2,502.6 L1332.1,502.4 L1333.1,495.8 L1334.0,485.2 L1335.0,484.8 L1335.9,485.2 L1336.9,482.4 L1337.8,485.9 L1338.8,486.9 L1339.7,492.4 L1340.7,493.6 L1341.7,497.8 L1342.6,500.7 L1343.6,496.3 L1344.5,496.0 L1345.5,490.3 L1346.4,483.7 L1347.4,481.0 L1348.3,478.3 L1349.3,469.8 L1350.2,462.7 L1351.2,454.3 L1352.2,447.2 L1353.1,447.3 L1354.1,450.3 L1355.0,448.4 L1356.0,448.9 L1356.9,440.7 L1357.9,428.2 L1358.8,412.6 L1359.8,412.6 L1360.7,409.1 L1361.7,409.2 L1362.6,414.2 L1363.6,411.1 L1364.6,415.4 L1365.5,417.8 L1366.5,417.2 L1367.4,412.7 L1368.4,417.6 L1369.3,416.1 L1370.3,469.6 L1371.2,459.6 L1372.2,445.4 L1373.1,429.9 L1374.1,429.3 L1375.1,435.7 L1376.0,436.4 L1377.0,433.4 L1377.9,433.4 L1378.9,432.5 L1379.8,442.0 L1380.8,448.9 L1381.7,447.7 L1382.7,449.9 L1383.6,455.8 L1384.6,452.4 L1385.5,445.9 L1386.5,445.4 L1387.5,438.7 L1388.4,431.6 L1389.4,438.7 L1390.3,447.8 L1391.3,455.2 L1392.2,458.8 L1393.2,467.0 L1394.1,459.0 L1395.1,450.4 L1396.0,437.2 L1397.0,438.5 L1398.0,439.0 L1398.9,437.1 L1399.9,436.1 L1400.8,433.4 L1401.8,429.1 L1402.7,430.0 L1403.7,425.8 L1404.6,424.7 L1405.6,425.8 L1406.5,425.5 L1407.5,424.7 L1408.4,426.5 L1409.4,426.0 L1410.4,423.8 L1411.3,426.4 L1412.3,433.1 L1413.2,435.8 L1414.2,438.2 L1415.1,445.9 L1416.1,454.1 L1417.0,454.2 L1418.0,450.5 L1418.9,447.8 L1419.9,449.8 L1420.9,445.4 L1421.8,443.4 L1422.8,443.8 L1423.7,441.1 L1424.7,436.8 L1425.6,433.3 L1426.6,425.5 L1427.5,419.5 L1428.5,410.2 L1429.4,411.5 L1430.4,402.3 L1431.3,402.5 L1432.3,402.9 L1433.3,400.5 L1434.2,387.3 L1435.2,385.0 L1436.1,387.6 L1437.1,382.2 L1438.0,374.6 L1439.0,380.8 L1439.9,385.0 L1440.9,378.8 L1441.8,379.5 L1442.8,374.7 L1443.8,370.3 L1444.7,367.0 L1445.7,368.4 L1446.6,362.9 L1447.6,366.9 L1448.5,370.0 L1449.5,373.2 L1450.4,376.2 L1451.4,376.2 L1452.3,378.0 L1453.3,377.6 L1454.3,370.1 L1455.2,365.9 L1456.2,354.7 L1457.1,351.3 L1458.1,346.8 L1459.0,346.5 L1460.0,342.0 L1460.9,342.4 L1461.9,342.6 L1462.8,337.0 L1463.8,330.6 L1464.7,329.1 L1465.7,326.9 L1466.7,333.2 L1467.6,332.1 L1468.6,330.3 L1469.5,325.2 L1470.5,321.8 L1471.4,325.7 L1472.4,337.3 L1473.3,341.6 L1474.3,349.7 L1475.2,347.0 L1476.2,338.7 L1477.2,323.2 L1478.1,312.1 L1479.1,302.6 L1480.0,307.5 L1481.0,298.6 L1481.9,302.6 L1482.9,303.5 L1483.8,305.6 L1484.8,303.2 L1485.7,305.6 L1486.7,310.8 L1487.6,323.2 L1488.6,322.0 L1489.6,314.0 L1490.5,305.6 L1491.5,308.3 L1492.4,304.3 L1493.4,309.7 L1494.3,307.1 L1495.3,311.0 L1496.2,323.9 L1497.2,337.9 L1498.1,333.5 L1499.1,322.8 L1500.1,318.8 L1501.0,313.7 L1502.0,314.6 L1502.9,308.5 L1503.9,306.8 L1504.8,309.1 L1505.8,302.6 L1506.7,300.5 L1507.7,301.8 L1508.6,302.7 L1509.6,304.1 L1510.5,309.4 L1511.5,314.6 L1512.5,317.4 L1513.4,309.7 L1514.4,305.6 L1515.3,301.2 L1516.3,293.8 L1517.2,295.4 L1518.2,294.7 L1519.1,290.6 L1520.1,290.9 L1521.0,286.6 L1522.0,288.4 L1523.0,280.6 L1523.9,277.1 L1524.9,270.3 L1525.8,268.9 L1526.8,271.8 L1527.7,272.9 L1528.7,268.8 L1529.6,276.6 L1530.6,284.5 L1531.5,290.9 L1532.5,288.2 L1533.4,282.8 L1534.4,280.6 L1535.4,292.3 L1536.3,300.6 L1537.3,307.1 L1538.2,299.9 L1539.2,299.9 L1540.1,299.7 L1541.1,294.1 L1542.0,284.8 L1543.0,280.6 L1543.9,268.3 L1544.9,260.0 L1545.9,259.6 L1546.8,259.7 L1547.8,251.2 L1548.7,253.9 L1549.7,257.5 L1550.6,266.1 L1551.6,270.3 L1552.5,261.6 L1553.5,259.0 L1554.4,257.1 L1555.4,257.8 L1556.3,257.9 L1557.3,257.1 L1558.3,273.3 L1559.2,293.2 L1560.2,314.4 L1561.1,302.5 L1562.1,284.6 L1563.0,274.7 L1564.0,280.3 L1564.9,290.8 L1565.9,295.3 L1566.8,352.6 L1567.8,442.4 L1568.8,426.2 L1569.7,417.4 L1570.7,396.8 L1571.6,392.3 L1572.6,382.1 L1573.5,335.0 L1574.5,334.3 L1575.4,331.3 L1576.4,332.1 L1577.3,334.0 L1578.3,339.4 L1579.2,343.8 L1580.2,341.9 L1581.2,340.6 L1582.1,334.0 L1583.1,332.1 L1584.0,328.3 L1585.0,319.5 L1585.9,318.8 L1586.9,322.0 L1587.8,318.8 L1588.8,331.5 L1589.7,352.6 L1590.7,360.2 L1591.7,369.5 L1592.6,376.2 L1593.6,376.2 L1594.5,376.8 L1595.5,376.2 L1596.4,371.3 L1597.4,361.6 L1598.3,353.6 L1599.3,349.7 L1600.2,331.7 L1601.2,324.7 L1602.1,325.0 L1603.1,321.5 L1604.1,323.2 L1605.0,333.7 L1606.0,345.3 L1606.9,340.6 L1607.9,328.5 L1608.8,318.8 L1609.8,321.3 L1610.7,322.0 L1611.7,330.6 L1612.6,335.4 L1613.6,337.5 L1614.6,339.4 L1615.5,343.1 L1616.5,346.6 L1617.4,347.2 L1618.4,351.2 L1619.3,352.2 L1620.3,356.1 L1621.2,358.5 L1622.2,354.5 L1623.1,348.3 L1624.1,337.9 L1625.1,334.9 L1626.0,339.6 L1627.0,336.0 L1627.9,330.6 L1628.9,333.3 L1629.8,341.1 L1630.8,352.6 L1631.7,352.3 L1632.7,352.1 L1633.6,353.0 L1634.6,350.9 L1635.5,349.7 L1636.5,348.5 L1637.5,345.9 L1638.4,349.3 L1639.4,346.8 L1640.3,355.7 L1641.3,359.3 L1642.2,371.8 L1643.2,367.9 L1644.1,361.6 L1645.1,355.0 L1646.0,352.6 L1647.0,359.0 L1648.0,363.1 L1648.9,367.4 L1649.9,361.3 L1650.8,359.3 L1651.8,355.6 L1652.7,365.6 L1653.7,363.8 L1654.6,370.3 L1655.6,366.8 L1656.5,359.4 L1657.5,352.6 L1658.4,341.4 L1659.4,324.7 L1660.4,322.1 L1661.3,326.3 L1662.3,326.6 L1663.2,324.7 L1664.2,330.9 L1665.1,341.4 L1666.1,352.6 L1667.0,343.1 L1668.0,332.1 L1668.9,323.2 L1669.9,325.7 L1670.9,327.1 L1671.8,330.6 L1672.8,342.9 L1673.7,359.3 L1674.7,365.9 L1675.6,364.1 L1676.6,366.2 L1677.5,364.0 L1678.5,362.9 L1679.4,353.3 L1680.4,349.4 L1681.3,353.1 L1682.3,346.8 L1683.3,351.0 L1684.2,357.8 L1685.2,365.6 L1686.1,367.4 L1687.1,356.7 L1688.0,346.7 L1689.0,340.9 L1689.9,337.2 L1690.9,334.4 L1691.8,329.1 L1692.8,327.9 L1693.8,336.2 L1694.7,338.8 L1695.7,343.8 L1696.6,343.8 L1697.6,342.4 L1698.5,340.9 L1699.5,340.9 L1700.4,340.2 L1701.4,331.3 L1702.3,338.9 L1703.3,335.0 L1704.2,332.3 L1705.2,324.8 L1706.2,321.8 L1707.1,323.6 L1708.1,324.2 L1709.0,329.4 L1710.0,329.1 L1710.9,318.9 L1711.9,313.5 L1712.8,302.6 L1713.8,302.1 L1714.7,301.4 L1715.7,304.1 L1716.7,304.1 L1717.6,300.4 L1718.6,299.9 L1719.5,299.7 L1720.5,317.4 L1721.4,322.9 L1722.4,337.9 L1723.3,361.5 L1724.3,389.4 L1725.2,407.1 L1726.2,418.8 L1727.1,443.1 L1728.1,439.3 L1729.1,429.1 L1730.0,420.9 L1731.0,411.0 L1731.9,399.7 L1732.9,391.6 L1733.8,389.4 L1734.8,390.0 L1735.7,382.1 L1736.7,388.0 L1737.6,390.9 L1738.6,375.7 L1739.6,352.6 L1740.5,352.4 L1741.5,351.0 L1742.4,347.4 L1743.4,351.2 L1744.3,355.8 L1745.3,357.5 L1746.2,360.0 L1747.2,345.5 L1748.1,337.9 L1749.1,335.9 L1750.0,338.2 L1751.0,337.9 L1752.0,347.7 L1752.9,347.3 L1753.9,349.7 L1754.8,347.1 L1755.8,348.1 L1756.7,346.8 L1757.7,339.3 L1758.6,333.0 L1759.6,329.1 L1760.5,326.4 L1761.5,326.9 L1762.5,336.5"/>
</g>
<g fill="#000"><text x="171" y="1137" font-size="44" text-anchor="end">0</text></g>
<g fill="#000"><text x="171" y="964" font-size="44" text-anchor="end">50</text></g>
<g fill="#000"><text x="171" y="791" font-size="44" text-anchor="end">100</text></g>
<g fill="#000"><text x="171" y="618" font-size="44" text-anchor="end">150</text></g>
<g fill="#000"><text x="171" y="444.5" font-size="44" text-anchor="end">200</text></g>
<g fill="#000"><text x="171" y="271.5" font-size="44" text-anchor="end">250</text></g>
<g fill="#000"><text x="171" y="98.5" font-size="44" text-anchor="end">300</text></g>
<g fill="#000"><text x="211" y="1182" font-size="40" text-anchor="middle">’18年11月</text></g>
<g fill="#000"><text x="447.5" y="1182" font-size="40" text-anchor="middle">’19年11月</text></g>
<g fill="#000"><text x="684.3" y="1182" font-size="40" text-anchor="middle">’20年11月</text></g>
<g fill="#000"><text x="919.9" y="1182" font-size="40" text-anchor="middle">’21年11月</text></g>
<g fill="#000"><text x="1156.2" y="1182" font-size="40" text-anchor="middle">’22年11月</text></g>
<g fill="#000"><text x="1392" y="1182" font-size="40" text-anchor="middle">’23年11月</text></g>
<g fill="#000"><text x="1629" y="1182" font-size="40" text-anchor="middle">’24年11月</text></g>
<g fill="#000"><text x="318" y="195" font-size="41">※2018年11月9日（ファンド設定日）＝100として指数化</text></g>
<g fill="#ff0000"><text x="1789" y="304" font-size="40">当ファンド</text></g>
<g fill="#ff0000"><text x="1768" y="358" font-size="40">（分配金再投資）</text></g>
<g fill="#2e75b6"><text x="1801" y="448" font-size="45">TOPIX</text></g>
<g fill="#bf9000"><text x="1798" y="518" font-size="40">日経平均株価</text></g>
</svg>
</body></html>
